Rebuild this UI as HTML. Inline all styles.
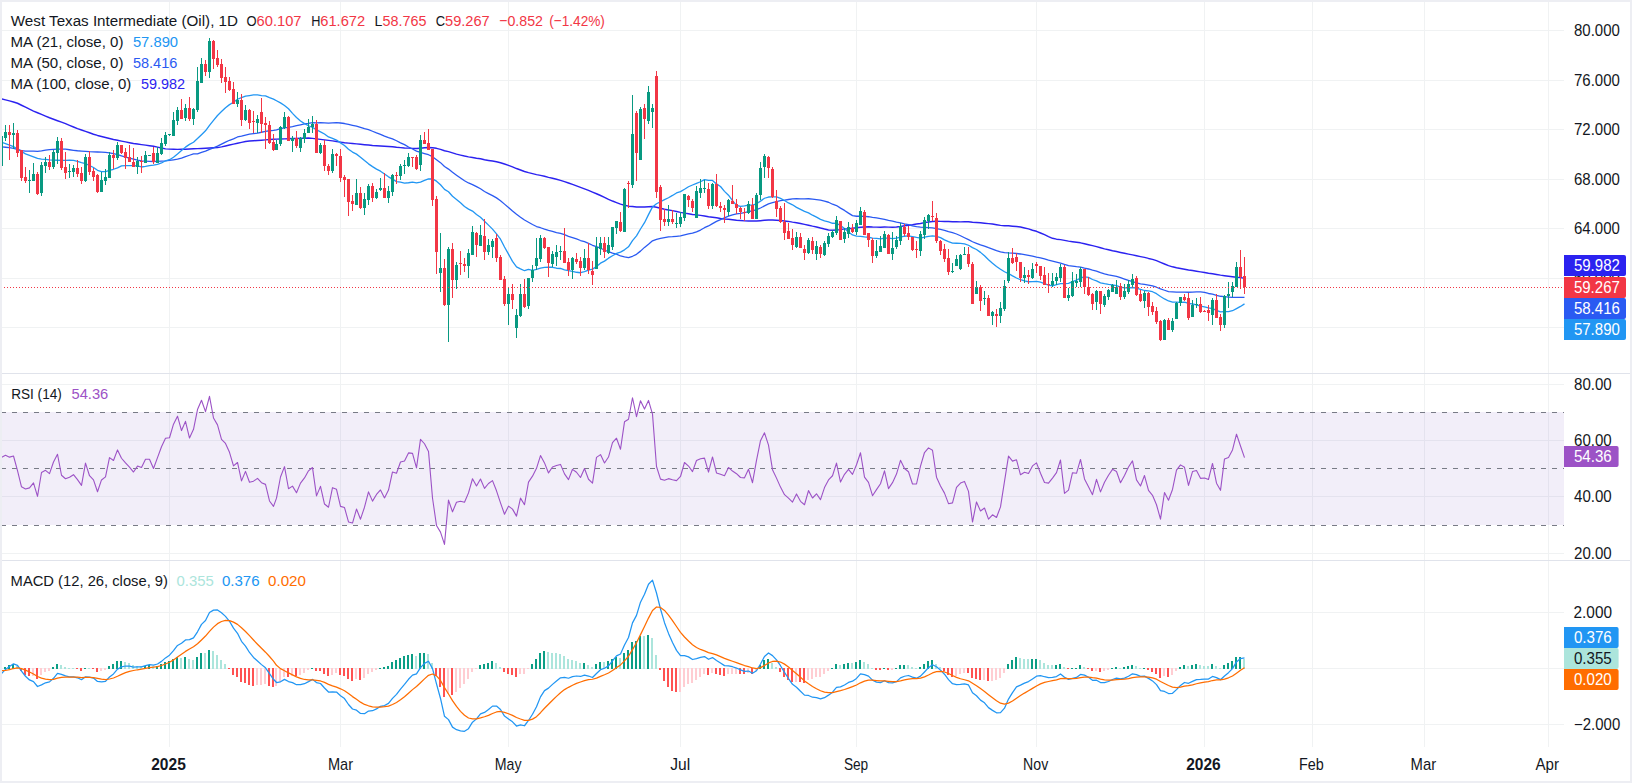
<!DOCTYPE html>
<html><head><meta charset="utf-8"><style>
html,body{margin:0;padding:0;}
body{width:1632px;height:783px;overflow:hidden;position:relative;background:#fff;}
</style></head><body>
<svg width="1632" height="783" viewBox="0 0 1632 783" style="position:absolute;left:0;top:0">
<rect x="0" y="0" width="1632" height="783" fill="#edeef3"/>
<rect x="2" y="2" width="1628" height="779" fill="#ffffff"/>
<g shape-rendering="crispEdges">
<rect x="169" y="2" width="1" height="745" fill="#f0f2f3"/>
<rect x="340" y="2" width="1" height="745" fill="#f0f2f3"/>
<rect x="508" y="2" width="1" height="745" fill="#f0f2f3"/>
<rect x="680" y="2" width="1" height="745" fill="#f0f2f3"/>
<rect x="856" y="2" width="1" height="745" fill="#f0f2f3"/>
<rect x="1036" y="2" width="1" height="745" fill="#f0f2f3"/>
<rect x="1204" y="2" width="1" height="745" fill="#f0f2f3"/>
<rect x="1312" y="2" width="1" height="745" fill="#f0f2f3"/>
<rect x="1424" y="2" width="1" height="745" fill="#f0f2f3"/>
<rect x="1548" y="2" width="1" height="745" fill="#f0f2f3"/>
<rect x="2" y="30" width="1562" height="1" fill="#f0f2f3"/>
<rect x="2" y="80" width="1562" height="1" fill="#f0f2f3"/>
<rect x="2" y="129" width="1562" height="1" fill="#f0f2f3"/>
<rect x="2" y="179" width="1562" height="1" fill="#f0f2f3"/>
<rect x="2" y="228" width="1562" height="1" fill="#f0f2f3"/>
<rect x="2" y="278" width="1562" height="1" fill="#f0f2f3"/>
<rect x="2" y="327" width="1562" height="1" fill="#f0f2f3"/>
<rect x="2" y="384" width="1562" height="1" fill="#f0f2f3"/>
<rect x="2" y="440" width="1562" height="1" fill="#f0f2f3"/>
<rect x="2" y="496" width="1562" height="1" fill="#f0f2f3"/>
<rect x="2" y="553" width="1562" height="1" fill="#f0f2f3"/>
<rect x="2" y="612" width="1562" height="1" fill="#f0f2f3"/>
<rect x="2" y="668" width="1562" height="1" fill="#f0f2f3"/>
<rect x="2" y="724" width="1562" height="1" fill="#f0f2f3"/>
</g>
<rect x="2" y="412" width="1562" height="113" fill="#7e57c2" fill-opacity="0.1"/>
<line x1="2" y1="412.5" x2="1564" y2="412.5" stroke="#787b86" stroke-width="1" stroke-dasharray="5 6" stroke-dashoffset="1" shape-rendering="crispEdges"/>
<line x1="2" y1="468.5" x2="1564" y2="468.5" stroke="#787b86" stroke-width="1" stroke-dasharray="5 6" stroke-dashoffset="1" shape-rendering="crispEdges"/>
<line x1="2" y1="525.5" x2="1564" y2="525.5" stroke="#787b86" stroke-width="1" stroke-dasharray="5 6" stroke-dashoffset="1" shape-rendering="crispEdges"/>
<defs><clipPath id="cp"><rect x="2" y="2" width="1562" height="371"/></clipPath><clipPath id="cr"><rect x="2" y="374" width="1562" height="186"/></clipPath><clipPath id="cm"><rect x="2" y="561" width="1562" height="186"/></clipPath></defs>
<g clip-path="url(#cp)">
<polyline points="1.5,98.75 5.5,99.83 9.5,100.90 13.5,101.97 17.5,103.25 21.5,105.23 25.5,107.22 29.5,109.21 33.5,111.07 37.5,112.73 41.5,114.40 45.5,116.07 49.5,117.73 53.5,119.26 57.5,120.70 61.5,122.14 65.5,123.67 69.5,125.34 73.5,127.01 77.5,128.61 81.5,130.01 85.5,131.41 89.5,132.80 93.5,134.20 97.5,135.43 101.5,136.43 105.5,137.44 109.5,138.44 113.5,139.45 117.5,140.31 121.5,141.11 125.5,141.90 129.5,142.69 133.5,143.48 137.5,144.06 141.5,144.60 145.5,145.14 149.5,145.69 153.5,146.24 157.5,147.13 161.5,148.01 165.5,148.89 169.5,149.11 173.5,149.23 177.5,149.36 181.5,149.30 185.5,149.16 189.5,149.02 193.5,148.83 197.5,148.63 201.5,148.43 205.5,148.23 209.5,148.03 213.5,147.83 217.5,147.63 221.5,146.84 225.5,145.94 229.5,145.04 233.5,144.15 237.5,143.25 241.5,142.35 245.5,141.46 249.5,141.05 253.5,140.75 257.5,140.46 261.5,140.16 265.5,139.86 269.5,139.56 273.5,139.26 276.5,139.12 280.5,138.99 284.5,138.85 288.5,138.71 292.5,138.58 296.5,138.44 300.5,138.30 304.5,138.17 308.5,138.03 312.5,138.38 316.5,138.87 320.5,139.37 324.5,139.86 328.5,140.35 332.5,140.90 336.5,141.50 340.5,142.10 344.5,142.70 348.5,143.10 352.5,143.50 356.5,143.90 360.5,144.29 364.5,144.69 368.5,145.09 372.5,145.49 376.5,145.76 380.5,146.02 384.5,146.29 388.5,146.55 392.5,146.82 396.5,147.29 400.5,147.60 404.5,147.92 408.5,148.15 412.5,148.40 416.5,148.56 420.5,148.18 424.5,147.81 428.5,147.51 432.5,147.76 436.5,148.34 440.5,149.37 444.5,150.80 448.5,151.63 452.5,152.91 456.5,154.15 460.5,155.11 464.5,156.04 468.5,156.86 472.5,157.50 476.5,158.22 480.5,158.76 484.5,159.71 488.5,160.44 492.5,161.09 496.5,161.75 500.5,162.75 504.5,164.02 508.5,165.42 512.5,166.85 516.5,168.55 520.5,169.96 524.5,171.46 528.5,172.62 532.5,173.65 536.5,174.62 540.5,175.37 544.5,176.31 548.5,177.39 552.5,178.31 556.5,179.30 560.5,180.38 564.5,181.66 568.5,183.02 572.5,184.40 576.5,185.92 580.5,187.40 584.5,188.91 588.5,190.42 592.5,192.08 596.5,193.73 600.5,195.53 604.5,197.33 608.5,199.36 612.5,201.05 616.5,202.61 620.5,204.14 624.5,205.21 628.5,206.16 632.5,206.46 636.5,206.99 640.5,206.89 644.5,206.97 648.5,206.66 652.5,206.53 656.5,207.25 660.5,208.21 664.5,209.19 668.5,209.95 672.5,210.66 676.5,211.45 680.5,212.35 684.5,213.12 688.5,213.72 692.5,214.42 696.5,214.87 700.5,215.38 704.5,215.92 708.5,216.71 712.5,217.30 716.5,217.84 720.5,218.48 724.5,218.92 728.5,219.21 732.5,219.71 736.5,220.23 740.5,220.57 744.5,220.90 748.5,220.92 752.5,221.07 756.5,221.09 760.5,220.69 764.5,220.26 768.5,220.08 772.5,220.08 776.5,220.24 780.5,220.58 784.5,220.93 788.5,221.41 792.5,222.11 796.5,222.71 800.5,223.53 804.5,224.41 808.5,225.23 812.5,226.15 816.5,226.93 820.5,228.06 824.5,229.05 828.5,229.92 832.5,230.24 836.5,229.92 840.5,229.64 844.5,228.90 848.5,228.69 852.5,228.21 856.5,227.79 860.5,227.27 864.5,226.96 868.5,226.83 872.5,227.07 876.5,227.13 880.5,227.24 884.5,227.06 888.5,227.15 892.5,227.22 896.5,227.04 900.5,226.50 904.5,225.80 908.5,225.23 912.5,224.72 916.5,224.07 920.5,223.47 924.5,222.60 928.5,221.97 932.5,221.44 936.5,221.27 940.5,221.39 944.5,221.50 948.5,221.59 952.5,221.76 956.5,221.82 960.5,221.87 964.5,221.78 968.5,221.72 972.5,222.18 976.5,222.43 980.5,222.76 984.5,223.16 988.5,223.62 992.5,224.00 996.5,224.69 1000.5,225.35 1004.5,225.69 1008.5,225.82 1012.5,226.19 1016.5,226.59 1020.5,227.06 1024.5,227.92 1028.5,228.84 1032.5,230.20 1036.5,231.32 1040.5,232.99 1044.5,234.65 1048.5,236.58 1052.5,238.31 1056.5,239.16 1060.5,239.64 1064.5,240.39 1068.5,241.15 1072.5,241.74 1076.5,242.32 1080.5,242.84 1084.5,243.76 1088.5,244.71 1092.5,245.66 1096.5,246.66 1100.5,247.82 1104.5,248.91 1108.5,249.75 1112.5,250.76 1116.5,251.56 1120.5,252.45 1124.5,253.25 1128.5,254.09 1132.5,254.84 1136.5,255.71 1140.5,256.59 1144.5,257.39 1148.5,258.42 1152.5,259.35 1156.5,260.62 1160.5,262.34 1164.5,263.98 1168.5,265.59 1172.5,266.83 1176.5,267.77 1180.5,268.52 1184.5,269.18 1188.5,269.98 1192.5,270.58 1196.5,271.25 1200.5,271.89 1204.5,272.47 1208.5,273.20 1212.5,273.70 1216.5,274.42 1220.5,275.13 1224.5,275.66 1228.5,276.24 1232.5,276.78 1236.5,277.25 1240.5,277.62 1244.5,278.18" fill="none" stroke="#2b22f0" stroke-width="1.45" stroke-linejoin="round"/>
<polyline points="1.5,146.76 5.5,147.23 9.5,147.71 13.5,148.30 17.5,149.44 21.5,150.57 25.5,151.05 29.5,151.13 33.5,151.21 37.5,151.28 41.5,150.83 45.5,150.23 49.5,149.64 53.5,149.33 57.5,149.20 61.5,149.07 65.5,149.21 69.5,149.75 73.5,150.29 77.5,150.77 81.5,151.08 85.5,151.40 89.5,151.70 93.5,151.86 97.5,152.02 101.5,152.17 105.5,152.46 109.5,152.78 113.5,153.58 117.5,154.65 121.5,155.84 125.5,157.04 129.5,158.15 133.5,159.15 137.5,160.15 141.5,160.95 145.5,161.13 149.5,161.32 153.5,161.49 157.5,161.30 161.5,161.11 165.5,160.92 169.5,160.38 173.5,159.79 177.5,159.19 181.5,158.05 185.5,156.64 189.5,155.24 193.5,153.91 197.5,153.82 201.5,152.38 205.5,151.17 209.5,149.30 213.5,147.82 217.5,146.06 221.5,144.07 225.5,142.08 229.5,140.28 233.5,138.88 237.5,136.99 241.5,136.09 245.5,135.05 249.5,134.17 253.5,133.57 257.5,133.13 261.5,132.25 265.5,131.31 269.5,130.76 273.5,130.40 276.5,129.80 280.5,128.73 284.5,127.93 288.5,127.32 292.5,126.55 296.5,125.63 300.5,124.78 304.5,123.91 308.5,123.36 312.5,122.69 316.5,122.85 320.5,122.69 324.5,122.86 328.5,123.04 332.5,122.79 336.5,122.69 340.5,123.01 344.5,123.51 348.5,124.44 352.5,125.28 356.5,126.08 360.5,127.38 364.5,128.67 368.5,129.70 372.5,131.26 376.5,132.90 380.5,134.29 384.5,136.09 388.5,137.54 392.5,138.86 396.5,140.77 400.5,142.81 404.5,144.68 408.5,147.00 412.5,148.97 416.5,151.06 420.5,152.30 424.5,153.54 428.5,154.73 432.5,156.65 436.5,159.69 440.5,162.65 444.5,166.55 448.5,169.08 452.5,172.24 456.5,175.16 460.5,177.96 464.5,180.77 468.5,182.96 472.5,184.60 476.5,186.63 480.5,188.79 484.5,191.48 488.5,193.57 492.5,195.63 496.5,197.87 500.5,200.71 504.5,204.13 508.5,207.47 512.5,211.00 516.5,214.25 520.5,217.24 524.5,220.05 528.5,222.20 532.5,224.50 536.5,226.54 540.5,227.74 544.5,229.11 548.5,230.33 552.5,231.34 556.5,232.53 560.5,233.38 564.5,234.65 568.5,236.34 572.5,237.54 576.5,238.93 580.5,240.51 584.5,241.72 588.5,243.30 592.5,245.29 596.5,246.70 600.5,248.24 604.5,249.98 608.5,251.73 612.5,253.12 616.5,254.16 620.5,255.98 624.5,256.89 628.5,257.59 632.5,256.27 636.5,254.30 640.5,251.12 644.5,247.39 648.5,244.24 652.5,240.81 656.5,239.35 660.5,238.47 664.5,237.60 668.5,236.93 672.5,236.72 676.5,236.28 680.5,235.91 684.5,234.76 688.5,233.86 692.5,233.20 696.5,231.87 700.5,230.04 704.5,227.71 708.5,225.94 712.5,223.61 716.5,221.44 720.5,219.71 724.5,217.78 728.5,216.22 732.5,214.92 736.5,213.92 740.5,213.40 744.5,212.68 748.5,211.51 752.5,210.79 756.5,209.64 760.5,207.99 764.5,205.86 768.5,203.83 772.5,202.61 776.5,201.55 780.5,200.64 784.5,200.14 788.5,199.51 792.5,198.92 796.5,198.72 800.5,198.82 804.5,198.84 808.5,198.74 812.5,199.19 816.5,199.69 820.5,200.14 824.5,201.22 828.5,202.25 832.5,204.21 836.5,205.54 840.5,208.15 844.5,210.42 848.5,213.13 852.5,215.61 856.5,216.24 860.5,216.06 864.5,216.31 868.5,216.73 872.5,217.43 876.5,217.98 880.5,218.56 884.5,219.36 888.5,220.43 892.5,221.23 896.5,222.21 900.5,222.96 904.5,223.89 908.5,224.52 912.5,225.84 916.5,226.71 920.5,227.22 924.5,227.41 928.5,227.71 932.5,227.95 936.5,228.62 940.5,229.39 944.5,230.32 948.5,231.67 952.5,232.72 956.5,234.00 960.5,235.74 964.5,237.71 968.5,239.61 972.5,241.74 976.5,243.31 980.5,244.89 984.5,246.19 988.5,247.73 992.5,249.07 996.5,250.66 1000.5,251.88 1004.5,252.55 1008.5,252.91 1012.5,253.18 1016.5,253.50 1020.5,253.98 1024.5,254.63 1028.5,255.44 1032.5,256.18 1036.5,257.11 1040.5,257.83 1044.5,258.88 1048.5,260.03 1052.5,261.01 1056.5,262.09 1060.5,263.21 1064.5,264.47 1068.5,265.57 1072.5,266.05 1076.5,266.65 1080.5,267.11 1084.5,268.16 1088.5,268.99 1092.5,270.10 1096.5,271.11 1100.5,272.68 1104.5,273.92 1108.5,274.98 1112.5,275.68 1116.5,276.41 1120.5,277.67 1124.5,279.09 1128.5,280.48 1132.5,281.72 1136.5,282.79 1140.5,283.79 1144.5,284.47 1148.5,285.17 1152.5,285.98 1156.5,287.24 1160.5,288.93 1164.5,290.25 1168.5,291.57 1172.5,291.91 1176.5,292.22 1180.5,292.15 1184.5,292.18 1188.5,292.23 1192.5,292.08 1196.5,291.83 1200.5,291.90 1204.5,292.40 1208.5,293.49 1212.5,294.22 1216.5,295.33 1220.5,296.27 1224.5,296.69 1228.5,297.04 1232.5,297.38 1236.5,297.39 1240.5,297.42 1244.5,297.47" fill="none" stroke="#2a5af2" stroke-width="1.3" stroke-linejoin="round"/>
<polyline points="1.5,142.21 5.5,143.66 9.5,145.05 13.5,146.62 17.5,149.05 21.5,151.47 25.5,153.90 29.5,155.40 33.5,156.90 37.5,158.40 41.5,159.03 45.5,159.43 49.5,159.84 53.5,160.09 57.5,160.25 61.5,160.41 65.5,160.39 69.5,160.13 73.5,160.44 77.5,161.31 81.5,162.65 85.5,163.65 89.5,165.52 93.5,167.52 97.5,170.33 101.5,171.62 105.5,171.57 109.5,170.31 113.5,169.26 117.5,167.86 121.5,165.90 125.5,165.55 129.5,165.54 133.5,165.54 137.5,165.98 141.5,166.99 145.5,166.38 149.5,165.54 153.5,165.12 157.5,164.40 161.5,162.95 165.5,160.76 169.5,159.68 173.5,157.22 177.5,154.04 181.5,150.56 185.5,147.13 189.5,144.38 193.5,142.20 197.5,138.55 201.5,134.70 205.5,130.84 209.5,125.29 213.5,120.38 217.5,115.52 221.5,111.56 225.5,107.72 229.5,104.63 233.5,102.20 237.5,99.25 241.5,97.68 245.5,96.11 249.5,95.54 253.5,94.94 257.5,94.91 261.5,95.56 265.5,95.87 269.5,97.56 273.5,99.06 276.5,100.73 280.5,102.91 284.5,105.45 288.5,108.72 292.5,113.34 296.5,117.49 300.5,120.96 304.5,123.59 308.5,125.75 312.5,127.38 316.5,129.71 320.5,131.84 324.5,134.04 328.5,136.93 332.5,138.44 336.5,140.08 340.5,142.89 344.5,145.56 348.5,149.20 352.5,152.07 356.5,154.11 360.5,157.18 364.5,160.61 368.5,163.87 372.5,166.60 376.5,169.17 380.5,171.20 384.5,174.05 388.5,176.82 392.5,179.11 396.5,181.59 400.5,182.23 404.5,183.19 408.5,182.76 412.5,182.13 416.5,182.82 420.5,182.06 424.5,180.42 428.5,178.98 432.5,178.89 436.5,181.18 440.5,184.76 444.5,189.37 448.5,191.76 452.5,196.24 456.5,199.44 460.5,202.84 464.5,206.53 468.5,209.16 472.5,211.11 476.5,214.45 480.5,217.25 484.5,221.33 488.5,225.14 492.5,229.13 496.5,233.89 500.5,239.18 504.5,246.98 508.5,254.16 512.5,261.35 516.5,266.84 520.5,268.87 524.5,270.72 528.5,269.42 532.5,270.39 536.5,269.36 540.5,268.07 544.5,267.34 548.5,267.20 552.5,267.26 556.5,268.23 560.5,268.49 564.5,269.79 568.5,270.66 572.5,271.29 576.5,272.26 580.5,272.74 584.5,271.70 588.5,270.10 592.5,269.16 596.5,266.59 600.5,263.17 604.5,261.14 608.5,258.18 612.5,255.75 616.5,253.45 620.5,252.15 624.5,249.82 628.5,246.78 632.5,240.65 636.5,235.84 640.5,229.02 644.5,222.72 648.5,214.61 652.5,206.90 656.5,203.74 660.5,201.75 664.5,199.59 668.5,197.75 672.5,195.43 676.5,192.98 680.5,191.57 684.5,189.24 688.5,186.77 692.5,185.02 696.5,183.31 700.5,181.75 704.5,179.68 708.5,180.47 712.5,180.45 716.5,183.90 720.5,186.52 724.5,191.35 728.5,195.22 732.5,200.58 736.5,205.31 740.5,206.29 744.5,205.94 748.5,205.07 752.5,205.03 756.5,203.76 760.5,201.15 764.5,198.25 768.5,197.01 772.5,196.89 776.5,196.91 780.5,198.37 784.5,200.51 788.5,202.96 792.5,204.82 796.5,207.34 800.5,209.31 804.5,211.43 808.5,212.83 812.5,215.19 816.5,217.17 820.5,219.35 824.5,220.82 828.5,221.94 832.5,223.27 836.5,223.34 840.5,225.47 844.5,228.51 848.5,231.90 852.5,234.94 856.5,236.18 860.5,236.29 864.5,236.91 868.5,237.24 872.5,238.08 876.5,238.37 880.5,238.80 884.5,238.15 888.5,238.19 892.5,238.58 896.5,238.12 900.5,237.17 904.5,236.24 908.5,235.97 912.5,236.62 916.5,237.46 920.5,238.13 924.5,237.20 928.5,236.38 932.5,235.88 936.5,236.31 940.5,237.61 944.5,239.88 948.5,241.64 952.5,243.10 956.5,243.23 960.5,243.43 964.5,243.83 968.5,245.24 972.5,247.63 976.5,249.48 980.5,252.37 984.5,255.81 988.5,259.70 992.5,263.27 996.5,266.45 1000.5,269.24 1004.5,271.73 1008.5,273.54 1012.5,275.85 1016.5,277.99 1020.5,279.74 1024.5,280.91 1028.5,281.76 1032.5,281.64 1036.5,281.41 1040.5,282.20 1044.5,283.59 1048.5,285.06 1052.5,285.89 1056.5,284.63 1060.5,283.67 1064.5,283.53 1068.5,283.38 1072.5,281.71 1076.5,280.23 1080.5,277.95 1084.5,276.91 1088.5,277.32 1092.5,279.50 1096.5,280.80 1100.5,282.84 1104.5,283.71 1108.5,284.42 1112.5,284.81 1116.5,285.64 1120.5,287.09 1124.5,287.83 1128.5,287.81 1132.5,287.51 1136.5,288.17 1140.5,289.29 1144.5,290.50 1148.5,290.93 1152.5,291.71 1156.5,293.68 1160.5,296.49 1164.5,298.94 1168.5,300.98 1172.5,302.20 1176.5,302.16 1180.5,302.47 1184.5,302.24 1188.5,303.28 1192.5,304.00 1196.5,304.91 1200.5,306.11 1204.5,306.80 1208.5,307.83 1212.5,308.57 1216.5,310.41 1220.5,311.83 1224.5,311.60 1228.5,311.68 1232.5,310.70 1236.5,308.57 1240.5,306.43 1244.5,303.92" fill="none" stroke="#2196f3" stroke-width="1.3" stroke-linejoin="round"/>
<g shape-rendering="crispEdges">
<rect x="1.0" y="135" width="1" height="31" fill="#089981"/>
<rect x="0.0" y="136" width="3" height="30" fill="#089981"/>
<rect x="5.0" y="125" width="1" height="16" fill="#089981"/>
<rect x="4.0" y="132" width="3" height="6" fill="#089981"/>
<rect x="9.0" y="125" width="1" height="35" fill="#F23645"/>
<rect x="8.0" y="132" width="3" height="3" fill="#F23645"/>
<rect x="13.0" y="123" width="1" height="26" fill="#089981"/>
<rect x="12.0" y="133" width="3" height="2" fill="#089981"/>
<rect x="17.0" y="130" width="1" height="27" fill="#F23645"/>
<rect x="16.0" y="133" width="3" height="20" fill="#F23645"/>
<rect x="21.0" y="150" width="1" height="31" fill="#F23645"/>
<rect x="20.0" y="150" width="3" height="28" fill="#F23645"/>
<rect x="25.0" y="167" width="1" height="16" fill="#F23645"/>
<rect x="24.0" y="177" width="3" height="4" fill="#F23645"/>
<rect x="29.0" y="170" width="1" height="23" fill="#089981"/>
<rect x="28.0" y="180" width="3" height="1" fill="#089981"/>
<rect x="33.0" y="163" width="1" height="18" fill="#089981"/>
<rect x="32.0" y="174" width="3" height="7" fill="#089981"/>
<rect x="37.0" y="172" width="1" height="23" fill="#F23645"/>
<rect x="36.0" y="174" width="3" height="20" fill="#F23645"/>
<rect x="41.0" y="162" width="1" height="34" fill="#089981"/>
<rect x="40.0" y="165" width="3" height="28" fill="#089981"/>
<rect x="45.0" y="157" width="1" height="16" fill="#089981"/>
<rect x="44.0" y="162" width="3" height="4" fill="#089981"/>
<rect x="49.0" y="155" width="1" height="15" fill="#F23645"/>
<rect x="48.0" y="162" width="3" height="5" fill="#F23645"/>
<rect x="53.0" y="150" width="1" height="19" fill="#089981"/>
<rect x="52.0" y="152" width="3" height="15" fill="#089981"/>
<rect x="57.0" y="137" width="1" height="27" fill="#089981"/>
<rect x="56.0" y="141" width="3" height="12" fill="#089981"/>
<rect x="61.0" y="138" width="1" height="32" fill="#F23645"/>
<rect x="60.0" y="141" width="3" height="27" fill="#F23645"/>
<rect x="65.0" y="152" width="1" height="27" fill="#F23645"/>
<rect x="64.0" y="167" width="3" height="6" fill="#F23645"/>
<rect x="69.0" y="164" width="1" height="14" fill="#089981"/>
<rect x="68.0" y="171" width="3" height="1" fill="#089981"/>
<rect x="73.0" y="165" width="1" height="12" fill="#089981"/>
<rect x="72.0" y="168" width="3" height="4" fill="#089981"/>
<rect x="77.0" y="160" width="1" height="17" fill="#F23645"/>
<rect x="76.0" y="168" width="3" height="6" fill="#F23645"/>
<rect x="81.0" y="167" width="1" height="17" fill="#F23645"/>
<rect x="80.0" y="173" width="3" height="8" fill="#F23645"/>
<rect x="85.0" y="154" width="1" height="28" fill="#089981"/>
<rect x="84.0" y="157" width="3" height="24" fill="#089981"/>
<rect x="89.0" y="151" width="1" height="24" fill="#F23645"/>
<rect x="88.0" y="157" width="3" height="15" fill="#F23645"/>
<rect x="93.0" y="168" width="1" height="13" fill="#F23645"/>
<rect x="92.0" y="171" width="3" height="6" fill="#F23645"/>
<rect x="97.0" y="174" width="1" height="19" fill="#F23645"/>
<rect x="96.0" y="175" width="3" height="17" fill="#F23645"/>
<rect x="101.0" y="172" width="1" height="20" fill="#089981"/>
<rect x="100.0" y="180" width="3" height="12" fill="#089981"/>
<rect x="105.0" y="169" width="1" height="16" fill="#089981"/>
<rect x="104.0" y="177" width="3" height="4" fill="#089981"/>
<rect x="109.0" y="152" width="1" height="26" fill="#089981"/>
<rect x="108.0" y="155" width="3" height="23" fill="#089981"/>
<rect x="113.0" y="150" width="1" height="19" fill="#F23645"/>
<rect x="112.0" y="155" width="3" height="3" fill="#F23645"/>
<rect x="117.0" y="142" width="1" height="18" fill="#089981"/>
<rect x="116.0" y="145" width="3" height="13" fill="#089981"/>
<rect x="121.0" y="145" width="1" height="9" fill="#F23645"/>
<rect x="120.0" y="145" width="3" height="8" fill="#F23645"/>
<rect x="125.0" y="148" width="1" height="21" fill="#F23645"/>
<rect x="124.0" y="152" width="3" height="6" fill="#F23645"/>
<rect x="129.0" y="145" width="1" height="17" fill="#F23645"/>
<rect x="128.0" y="157" width="3" height="5" fill="#F23645"/>
<rect x="133.0" y="148" width="1" height="19" fill="#F23645"/>
<rect x="132.0" y="162" width="3" height="5" fill="#F23645"/>
<rect x="137.0" y="157" width="1" height="17" fill="#089981"/>
<rect x="136.0" y="161" width="3" height="6" fill="#089981"/>
<rect x="141.0" y="156" width="1" height="17" fill="#F23645"/>
<rect x="140.0" y="161" width="3" height="1" fill="#F23645"/>
<rect x="145.0" y="151" width="1" height="12" fill="#089981"/>
<rect x="144.0" y="155" width="3" height="8" fill="#089981"/>
<rect x="149.0" y="155" width="1" height="1" fill="#089981"/>
<rect x="148.0" y="155" width="3" height="1" fill="#089981"/>
<rect x="153.0" y="147" width="1" height="17" fill="#F23645"/>
<rect x="152.0" y="153" width="3" height="9" fill="#F23645"/>
<rect x="157.0" y="147" width="1" height="16" fill="#089981"/>
<rect x="156.0" y="153" width="3" height="10" fill="#089981"/>
<rect x="161.0" y="138" width="1" height="17" fill="#089981"/>
<rect x="160.0" y="143" width="3" height="11" fill="#089981"/>
<rect x="165.0" y="132" width="1" height="14" fill="#089981"/>
<rect x="164.0" y="135" width="3" height="9" fill="#089981"/>
<rect x="169.0" y="134" width="1" height="2" fill="#089981"/>
<rect x="168.0" y="134" width="3" height="1" fill="#089981"/>
<rect x="173.0" y="112" width="1" height="24" fill="#089981"/>
<rect x="172.0" y="120" width="3" height="16" fill="#089981"/>
<rect x="177.0" y="107" width="1" height="18" fill="#089981"/>
<rect x="176.0" y="110" width="3" height="11" fill="#089981"/>
<rect x="181.0" y="99" width="1" height="20" fill="#F23645"/>
<rect x="180.0" y="110" width="3" height="9" fill="#F23645"/>
<rect x="185.0" y="104" width="1" height="17" fill="#089981"/>
<rect x="184.0" y="108" width="3" height="10" fill="#089981"/>
<rect x="189.0" y="97" width="1" height="24" fill="#F23645"/>
<rect x="188.0" y="108" width="3" height="11" fill="#F23645"/>
<rect x="193.0" y="108" width="1" height="17" fill="#089981"/>
<rect x="192.0" y="109" width="3" height="10" fill="#089981"/>
<rect x="197.0" y="67" width="1" height="45" fill="#089981"/>
<rect x="196.0" y="81" width="3" height="29" fill="#089981"/>
<rect x="201.0" y="58" width="1" height="25" fill="#089981"/>
<rect x="200.0" y="64" width="3" height="19" fill="#089981"/>
<rect x="205.0" y="60" width="1" height="16" fill="#F23645"/>
<rect x="204.0" y="64" width="3" height="8" fill="#F23645"/>
<rect x="209.0" y="38" width="1" height="40" fill="#089981"/>
<rect x="208.0" y="41" width="3" height="31" fill="#089981"/>
<rect x="213.0" y="40" width="1" height="29" fill="#F23645"/>
<rect x="212.0" y="41" width="3" height="18" fill="#F23645"/>
<rect x="217.0" y="50" width="1" height="17" fill="#F23645"/>
<rect x="216.0" y="58" width="3" height="7" fill="#F23645"/>
<rect x="221.0" y="59" width="1" height="24" fill="#F23645"/>
<rect x="220.0" y="64" width="3" height="14" fill="#F23645"/>
<rect x="225.0" y="67" width="1" height="26" fill="#F23645"/>
<rect x="224.0" y="77" width="3" height="5" fill="#F23645"/>
<rect x="229.0" y="77" width="1" height="14" fill="#F23645"/>
<rect x="228.0" y="81" width="3" height="9" fill="#F23645"/>
<rect x="233.0" y="82" width="1" height="22" fill="#F23645"/>
<rect x="232.0" y="89" width="3" height="15" fill="#F23645"/>
<rect x="237.0" y="92" width="1" height="15" fill="#089981"/>
<rect x="236.0" y="100" width="3" height="4" fill="#089981"/>
<rect x="241.0" y="94" width="1" height="32" fill="#F23645"/>
<rect x="240.0" y="100" width="3" height="20" fill="#F23645"/>
<rect x="245.0" y="105" width="1" height="16" fill="#089981"/>
<rect x="244.0" y="110" width="3" height="10" fill="#089981"/>
<rect x="249.0" y="109" width="1" height="20" fill="#F23645"/>
<rect x="248.0" y="110" width="3" height="13" fill="#F23645"/>
<rect x="253.0" y="111" width="1" height="22" fill="#F23645"/>
<rect x="252.0" y="121" width="3" height="1" fill="#F23645"/>
<rect x="257.0" y="115" width="1" height="18" fill="#089981"/>
<rect x="256.0" y="119" width="3" height="4" fill="#089981"/>
<rect x="261.0" y="98" width="1" height="35" fill="#F23645"/>
<rect x="260.0" y="112" width="3" height="12" fill="#F23645"/>
<rect x="265.0" y="117" width="1" height="32" fill="#F23645"/>
<rect x="264.0" y="123" width="3" height="2" fill="#F23645"/>
<rect x="269.0" y="121" width="1" height="23" fill="#F23645"/>
<rect x="268.0" y="125" width="3" height="18" fill="#F23645"/>
<rect x="273.0" y="134" width="1" height="17" fill="#F23645"/>
<rect x="272.0" y="142" width="3" height="8" fill="#F23645"/>
<rect x="276.0" y="140" width="1" height="10" fill="#089981"/>
<rect x="275.0" y="144" width="3" height="6" fill="#089981"/>
<rect x="280.0" y="126" width="1" height="20" fill="#089981"/>
<rect x="279.0" y="127" width="3" height="17" fill="#089981"/>
<rect x="284.0" y="112" width="1" height="17" fill="#089981"/>
<rect x="283.0" y="117" width="3" height="11" fill="#089981"/>
<rect x="288.0" y="116" width="1" height="25" fill="#F23645"/>
<rect x="287.0" y="117" width="3" height="24" fill="#F23645"/>
<rect x="292.0" y="136" width="1" height="16" fill="#089981"/>
<rect x="291.0" y="138" width="3" height="3" fill="#089981"/>
<rect x="296.0" y="131" width="1" height="17" fill="#F23645"/>
<rect x="295.0" y="138" width="3" height="8" fill="#F23645"/>
<rect x="300.0" y="137" width="1" height="15" fill="#089981"/>
<rect x="299.0" y="138" width="3" height="10" fill="#089981"/>
<rect x="304.0" y="129" width="1" height="14" fill="#089981"/>
<rect x="303.0" y="133" width="3" height="6" fill="#089981"/>
<rect x="308.0" y="119" width="1" height="14" fill="#089981"/>
<rect x="307.0" y="127" width="3" height="6" fill="#089981"/>
<rect x="312.0" y="116" width="1" height="17" fill="#089981"/>
<rect x="311.0" y="124" width="3" height="3" fill="#089981"/>
<rect x="316.0" y="120" width="1" height="33" fill="#F23645"/>
<rect x="315.0" y="124" width="3" height="29" fill="#F23645"/>
<rect x="320.0" y="143" width="1" height="11" fill="#089981"/>
<rect x="319.0" y="145" width="3" height="8" fill="#089981"/>
<rect x="324.0" y="140" width="1" height="31" fill="#F23645"/>
<rect x="323.0" y="145" width="3" height="21" fill="#F23645"/>
<rect x="328.0" y="164" width="1" height="11" fill="#F23645"/>
<rect x="327.0" y="166" width="3" height="5" fill="#F23645"/>
<rect x="332.0" y="149" width="1" height="24" fill="#089981"/>
<rect x="331.0" y="154" width="3" height="17" fill="#089981"/>
<rect x="336.0" y="153" width="1" height="13" fill="#F23645"/>
<rect x="335.0" y="154" width="3" height="2" fill="#F23645"/>
<rect x="340.0" y="149" width="1" height="33" fill="#F23645"/>
<rect x="339.0" y="156" width="3" height="22" fill="#F23645"/>
<rect x="344.0" y="175" width="1" height="22" fill="#F23645"/>
<rect x="343.0" y="177" width="3" height="3" fill="#F23645"/>
<rect x="348.0" y="179" width="1" height="37" fill="#F23645"/>
<rect x="347.0" y="179" width="3" height="23" fill="#F23645"/>
<rect x="352.0" y="195" width="1" height="16" fill="#F23645"/>
<rect x="351.0" y="201" width="3" height="3" fill="#F23645"/>
<rect x="356.0" y="179" width="1" height="26" fill="#089981"/>
<rect x="355.0" y="193" width="3" height="12" fill="#089981"/>
<rect x="360.0" y="187" width="1" height="22" fill="#F23645"/>
<rect x="359.0" y="193" width="3" height="15" fill="#F23645"/>
<rect x="364.0" y="193" width="1" height="22" fill="#089981"/>
<rect x="363.0" y="199" width="3" height="9" fill="#089981"/>
<rect x="368.0" y="184" width="1" height="21" fill="#089981"/>
<rect x="367.0" y="186" width="3" height="14" fill="#089981"/>
<rect x="372.0" y="183" width="1" height="19" fill="#F23645"/>
<rect x="371.0" y="186" width="3" height="12" fill="#F23645"/>
<rect x="376.0" y="189" width="1" height="10" fill="#089981"/>
<rect x="375.0" y="192" width="3" height="6" fill="#089981"/>
<rect x="380.0" y="178" width="1" height="13" fill="#089981"/>
<rect x="379.0" y="188" width="3" height="2" fill="#089981"/>
<rect x="384.0" y="173" width="1" height="25" fill="#F23645"/>
<rect x="383.0" y="188" width="3" height="10" fill="#F23645"/>
<rect x="388.0" y="186" width="1" height="17" fill="#089981"/>
<rect x="387.0" y="191" width="3" height="7" fill="#089981"/>
<rect x="392.0" y="174" width="1" height="22" fill="#089981"/>
<rect x="391.0" y="175" width="3" height="17" fill="#089981"/>
<rect x="396.0" y="172" width="1" height="12" fill="#F23645"/>
<rect x="395.0" y="175" width="3" height="1" fill="#F23645"/>
<rect x="400.0" y="164" width="1" height="16" fill="#089981"/>
<rect x="399.0" y="166" width="3" height="10" fill="#089981"/>
<rect x="404.0" y="160" width="1" height="14" fill="#089981"/>
<rect x="403.0" y="165" width="3" height="1" fill="#089981"/>
<rect x="408.0" y="153" width="1" height="14" fill="#089981"/>
<rect x="407.0" y="157" width="3" height="9" fill="#089981"/>
<rect x="412.0" y="157" width="1" height="10" fill="#F23645"/>
<rect x="411.0" y="157" width="3" height="1" fill="#F23645"/>
<rect x="416.0" y="155" width="1" height="15" fill="#F23645"/>
<rect x="415.0" y="157" width="3" height="12" fill="#F23645"/>
<rect x="420.0" y="135" width="1" height="36" fill="#089981"/>
<rect x="419.0" y="140" width="3" height="25" fill="#089981"/>
<rect x="424.0" y="132" width="1" height="12" fill="#F23645"/>
<rect x="423.0" y="140" width="3" height="4" fill="#F23645"/>
<rect x="428.0" y="129" width="1" height="21" fill="#F23645"/>
<rect x="427.0" y="143" width="3" height="7" fill="#F23645"/>
<rect x="432.0" y="149" width="1" height="57" fill="#F23645"/>
<rect x="431.0" y="149" width="3" height="51" fill="#F23645"/>
<rect x="436.0" y="196" width="1" height="78" fill="#F23645"/>
<rect x="435.0" y="199" width="3" height="53" fill="#F23645"/>
<rect x="440.0" y="233" width="1" height="59" fill="#089981"/>
<rect x="439.0" y="268" width="3" height="5" fill="#089981"/>
<rect x="444.0" y="259" width="1" height="47" fill="#F23645"/>
<rect x="443.0" y="268" width="3" height="37" fill="#F23645"/>
<rect x="448.0" y="247" width="1" height="95" fill="#089981"/>
<rect x="447.0" y="249" width="3" height="56" fill="#089981"/>
<rect x="452.0" y="243" width="1" height="55" fill="#F23645"/>
<rect x="451.0" y="249" width="3" height="31" fill="#F23645"/>
<rect x="456.0" y="262" width="1" height="27" fill="#089981"/>
<rect x="455.0" y="265" width="3" height="15" fill="#089981"/>
<rect x="460.0" y="251" width="1" height="24" fill="#F23645"/>
<rect x="459.0" y="263" width="3" height="1" fill="#F23645"/>
<rect x="464.0" y="258" width="1" height="14" fill="#F23645"/>
<rect x="463.0" y="264" width="3" height="2" fill="#F23645"/>
<rect x="468.0" y="249" width="1" height="29" fill="#089981"/>
<rect x="467.0" y="253" width="3" height="13" fill="#089981"/>
<rect x="472.0" y="226" width="1" height="29" fill="#089981"/>
<rect x="471.0" y="232" width="3" height="23" fill="#089981"/>
<rect x="476.0" y="232" width="1" height="25" fill="#F23645"/>
<rect x="475.0" y="233" width="3" height="12" fill="#F23645"/>
<rect x="480.0" y="225" width="1" height="21" fill="#089981"/>
<rect x="479.0" y="235" width="3" height="11" fill="#089981"/>
<rect x="484.0" y="219" width="1" height="41" fill="#F23645"/>
<rect x="483.0" y="236" width="3" height="16" fill="#F23645"/>
<rect x="488.0" y="239" width="1" height="16" fill="#089981"/>
<rect x="487.0" y="245" width="3" height="7" fill="#089981"/>
<rect x="492.0" y="239" width="1" height="19" fill="#089981"/>
<rect x="491.0" y="241" width="3" height="6" fill="#089981"/>
<rect x="496.0" y="234" width="1" height="28" fill="#F23645"/>
<rect x="495.0" y="238" width="3" height="20" fill="#F23645"/>
<rect x="500.0" y="255" width="1" height="25" fill="#F23645"/>
<rect x="499.0" y="257" width="3" height="23" fill="#F23645"/>
<rect x="504.0" y="276" width="1" height="30" fill="#F23645"/>
<rect x="503.0" y="279" width="3" height="25" fill="#F23645"/>
<rect x="508.0" y="288" width="1" height="37" fill="#089981"/>
<rect x="507.0" y="294" width="3" height="10" fill="#089981"/>
<rect x="512.0" y="284" width="1" height="25" fill="#F23645"/>
<rect x="511.0" y="294" width="3" height="6" fill="#F23645"/>
<rect x="516.0" y="309" width="1" height="29" fill="#089981"/>
<rect x="515.0" y="315" width="3" height="13" fill="#089981"/>
<rect x="520.0" y="284" width="1" height="33" fill="#089981"/>
<rect x="519.0" y="294" width="3" height="22" fill="#089981"/>
<rect x="524.0" y="279" width="1" height="29" fill="#F23645"/>
<rect x="523.0" y="294" width="3" height="13" fill="#F23645"/>
<rect x="528.0" y="278" width="1" height="31" fill="#089981"/>
<rect x="527.0" y="278" width="3" height="28" fill="#089981"/>
<rect x="532.0" y="265" width="1" height="17" fill="#089981"/>
<rect x="531.0" y="270" width="3" height="8" fill="#089981"/>
<rect x="536.0" y="238" width="1" height="32" fill="#089981"/>
<rect x="535.0" y="258" width="3" height="8" fill="#089981"/>
<rect x="540.0" y="235" width="1" height="27" fill="#089981"/>
<rect x="539.0" y="238" width="3" height="21" fill="#089981"/>
<rect x="544.0" y="237" width="1" height="12" fill="#F23645"/>
<rect x="543.0" y="238" width="3" height="10" fill="#F23645"/>
<rect x="548.0" y="247" width="1" height="30" fill="#F23645"/>
<rect x="547.0" y="247" width="3" height="16" fill="#F23645"/>
<rect x="552.0" y="251" width="1" height="16" fill="#089981"/>
<rect x="551.0" y="254" width="3" height="10" fill="#089981"/>
<rect x="556.0" y="245" width="1" height="21" fill="#089981"/>
<rect x="555.0" y="252" width="3" height="5" fill="#089981"/>
<rect x="560.0" y="246" width="1" height="14" fill="#089981"/>
<rect x="559.0" y="251" width="3" height="1" fill="#089981"/>
<rect x="564.0" y="228" width="1" height="35" fill="#F23645"/>
<rect x="563.0" y="251" width="3" height="12" fill="#F23645"/>
<rect x="568.0" y="258" width="1" height="18" fill="#F23645"/>
<rect x="567.0" y="262" width="3" height="8" fill="#F23645"/>
<rect x="572.0" y="257" width="1" height="22" fill="#089981"/>
<rect x="571.0" y="258" width="3" height="12" fill="#089981"/>
<rect x="576.0" y="253" width="1" height="11" fill="#F23645"/>
<rect x="575.0" y="259" width="3" height="3" fill="#F23645"/>
<rect x="580.0" y="257" width="1" height="19" fill="#F23645"/>
<rect x="579.0" y="261" width="3" height="7" fill="#F23645"/>
<rect x="584.0" y="249" width="1" height="21" fill="#089981"/>
<rect x="583.0" y="258" width="3" height="10" fill="#089981"/>
<rect x="588.0" y="243" width="1" height="31" fill="#F23645"/>
<rect x="587.0" y="258" width="3" height="12" fill="#F23645"/>
<rect x="592.0" y="261" width="1" height="24" fill="#F23645"/>
<rect x="591.0" y="271" width="3" height="4" fill="#F23645"/>
<rect x="596.0" y="237" width="1" height="32" fill="#089981"/>
<rect x="595.0" y="247" width="3" height="22" fill="#089981"/>
<rect x="600.0" y="237" width="1" height="18" fill="#089981"/>
<rect x="599.0" y="243" width="3" height="6" fill="#089981"/>
<rect x="604.0" y="237" width="1" height="21" fill="#F23645"/>
<rect x="603.0" y="243" width="3" height="9" fill="#F23645"/>
<rect x="608.0" y="237" width="1" height="17" fill="#089981"/>
<rect x="607.0" y="245" width="3" height="8" fill="#089981"/>
<rect x="612.0" y="227" width="1" height="23" fill="#089981"/>
<rect x="611.0" y="227" width="3" height="20" fill="#089981"/>
<rect x="616.0" y="221" width="1" height="13" fill="#089981"/>
<rect x="615.0" y="221" width="3" height="7" fill="#089981"/>
<rect x="620.0" y="212" width="1" height="20" fill="#F23645"/>
<rect x="619.0" y="222" width="3" height="9" fill="#F23645"/>
<rect x="624.0" y="188" width="1" height="44" fill="#089981"/>
<rect x="623.0" y="189" width="3" height="43" fill="#089981"/>
<rect x="628.0" y="181" width="1" height="27" fill="#F23645"/>
<rect x="627.0" y="183" width="3" height="1" fill="#F23645"/>
<rect x="632.0" y="95" width="1" height="93" fill="#089981"/>
<rect x="631.0" y="134" width="3" height="51" fill="#089981"/>
<rect x="636.0" y="111" width="1" height="70" fill="#F23645"/>
<rect x="635.0" y="113" width="3" height="40" fill="#F23645"/>
<rect x="640.0" y="107" width="1" height="53" fill="#089981"/>
<rect x="639.0" y="109" width="3" height="51" fill="#089981"/>
<rect x="644.0" y="104" width="1" height="35" fill="#F23645"/>
<rect x="643.0" y="108" width="3" height="11" fill="#F23645"/>
<rect x="648.0" y="86" width="1" height="38" fill="#089981"/>
<rect x="647.0" y="92" width="3" height="29" fill="#089981"/>
<rect x="652.0" y="104" width="1" height="24" fill="#089981"/>
<rect x="651.0" y="108" width="3" height="4" fill="#089981"/>
<rect x="656.0" y="71" width="1" height="127" fill="#F23645"/>
<rect x="655.0" y="76" width="3" height="116" fill="#F23645"/>
<rect x="660.0" y="185" width="1" height="46" fill="#F23645"/>
<rect x="659.0" y="187" width="3" height="33" fill="#F23645"/>
<rect x="664.0" y="209" width="1" height="17" fill="#F23645"/>
<rect x="663.0" y="219" width="3" height="3" fill="#F23645"/>
<rect x="668.0" y="205" width="1" height="21" fill="#089981"/>
<rect x="667.0" y="219" width="3" height="3" fill="#089981"/>
<rect x="672.0" y="210" width="1" height="14" fill="#F23645"/>
<rect x="671.0" y="219" width="3" height="3" fill="#F23645"/>
<rect x="676.0" y="213" width="1" height="15" fill="#089981"/>
<rect x="675.0" y="223" width="3" height="1" fill="#089981"/>
<rect x="680.0" y="212" width="1" height="15" fill="#089981"/>
<rect x="679.0" y="217" width="3" height="7" fill="#089981"/>
<rect x="684.0" y="194" width="1" height="27" fill="#089981"/>
<rect x="683.0" y="194" width="3" height="24" fill="#089981"/>
<rect x="688.0" y="195" width="1" height="12" fill="#F23645"/>
<rect x="687.0" y="196" width="3" height="4" fill="#F23645"/>
<rect x="692.0" y="199" width="1" height="13" fill="#F23645"/>
<rect x="691.0" y="201" width="3" height="7" fill="#F23645"/>
<rect x="696.0" y="186" width="1" height="32" fill="#089981"/>
<rect x="695.0" y="191" width="3" height="27" fill="#089981"/>
<rect x="700.0" y="179" width="1" height="19" fill="#089981"/>
<rect x="699.0" y="188" width="3" height="5" fill="#089981"/>
<rect x="704.0" y="180" width="1" height="13" fill="#089981"/>
<rect x="703.0" y="188" width="3" height="1" fill="#089981"/>
<rect x="708.0" y="183" width="1" height="26" fill="#F23645"/>
<rect x="707.0" y="189" width="3" height="17" fill="#F23645"/>
<rect x="712.0" y="183" width="1" height="26" fill="#089981"/>
<rect x="711.0" y="184" width="3" height="22" fill="#089981"/>
<rect x="716.0" y="174" width="1" height="33" fill="#F23645"/>
<rect x="715.0" y="184" width="3" height="22" fill="#F23645"/>
<rect x="720.0" y="202" width="1" height="10" fill="#F23645"/>
<rect x="719.0" y="206" width="3" height="2" fill="#F23645"/>
<rect x="724.0" y="205" width="1" height="18" fill="#F23645"/>
<rect x="723.0" y="208" width="3" height="2" fill="#F23645"/>
<rect x="728.0" y="199" width="1" height="17" fill="#089981"/>
<rect x="727.0" y="200" width="3" height="12" fill="#089981"/>
<rect x="732.0" y="185" width="1" height="19" fill="#F23645"/>
<rect x="731.0" y="201" width="3" height="3" fill="#F23645"/>
<rect x="736.0" y="199" width="1" height="15" fill="#F23645"/>
<rect x="735.0" y="204" width="3" height="4" fill="#F23645"/>
<rect x="740.0" y="207" width="1" height="12" fill="#F23645"/>
<rect x="739.0" y="208" width="3" height="4" fill="#F23645"/>
<rect x="744.0" y="208" width="1" height="13" fill="#F23645"/>
<rect x="743.0" y="212" width="3" height="1" fill="#F23645"/>
<rect x="748.0" y="201" width="1" height="13" fill="#089981"/>
<rect x="747.0" y="204" width="3" height="9" fill="#089981"/>
<rect x="752.0" y="198" width="1" height="21" fill="#F23645"/>
<rect x="751.0" y="205" width="3" height="14" fill="#F23645"/>
<rect x="756.0" y="193" width="1" height="26" fill="#089981"/>
<rect x="755.0" y="195" width="3" height="24" fill="#089981"/>
<rect x="760.0" y="162" width="1" height="38" fill="#089981"/>
<rect x="759.0" y="168" width="3" height="27" fill="#089981"/>
<rect x="764.0" y="154" width="1" height="24" fill="#089981"/>
<rect x="763.0" y="156" width="3" height="11" fill="#089981"/>
<rect x="768.0" y="156" width="1" height="22" fill="#F23645"/>
<rect x="767.0" y="157" width="3" height="11" fill="#F23645"/>
<rect x="772.0" y="167" width="1" height="31" fill="#F23645"/>
<rect x="771.0" y="169" width="3" height="28" fill="#F23645"/>
<rect x="776.0" y="190" width="1" height="27" fill="#F23645"/>
<rect x="775.0" y="201" width="3" height="8" fill="#F23645"/>
<rect x="780.0" y="206" width="1" height="17" fill="#F23645"/>
<rect x="779.0" y="208" width="3" height="14" fill="#F23645"/>
<rect x="784.0" y="203" width="1" height="37" fill="#F23645"/>
<rect x="783.0" y="222" width="3" height="11" fill="#F23645"/>
<rect x="788.0" y="223" width="1" height="16" fill="#F23645"/>
<rect x="787.0" y="231" width="3" height="8" fill="#F23645"/>
<rect x="792.0" y="229" width="1" height="21" fill="#F23645"/>
<rect x="791.0" y="238" width="3" height="7" fill="#F23645"/>
<rect x="796.0" y="232" width="1" height="16" fill="#089981"/>
<rect x="795.0" y="237" width="3" height="10" fill="#089981"/>
<rect x="800.0" y="233" width="1" height="15" fill="#F23645"/>
<rect x="799.0" y="237" width="3" height="11" fill="#F23645"/>
<rect x="804.0" y="245" width="1" height="15" fill="#F23645"/>
<rect x="803.0" y="249" width="3" height="4" fill="#F23645"/>
<rect x="808.0" y="238" width="1" height="16" fill="#089981"/>
<rect x="807.0" y="240" width="3" height="13" fill="#089981"/>
<rect x="812.0" y="237" width="1" height="17" fill="#F23645"/>
<rect x="811.0" y="241" width="3" height="9" fill="#F23645"/>
<rect x="816.0" y="241" width="1" height="19" fill="#089981"/>
<rect x="815.0" y="246" width="3" height="8" fill="#089981"/>
<rect x="820.0" y="245" width="1" height="13" fill="#F23645"/>
<rect x="819.0" y="247" width="3" height="7" fill="#F23645"/>
<rect x="824.0" y="241" width="1" height="15" fill="#089981"/>
<rect x="823.0" y="243" width="3" height="12" fill="#089981"/>
<rect x="828.0" y="233" width="1" height="14" fill="#089981"/>
<rect x="827.0" y="236" width="3" height="8" fill="#089981"/>
<rect x="832.0" y="230" width="1" height="8" fill="#089981"/>
<rect x="831.0" y="232" width="3" height="5" fill="#089981"/>
<rect x="836.0" y="216" width="1" height="19" fill="#089981"/>
<rect x="835.0" y="220" width="3" height="13" fill="#089981"/>
<rect x="840.0" y="221" width="1" height="19" fill="#F23645"/>
<rect x="839.0" y="221" width="3" height="19" fill="#F23645"/>
<rect x="844.0" y="228" width="1" height="15" fill="#089981"/>
<rect x="843.0" y="232" width="3" height="7" fill="#089981"/>
<rect x="848.0" y="222" width="1" height="16" fill="#089981"/>
<rect x="847.0" y="227" width="3" height="7" fill="#089981"/>
<rect x="852.0" y="224" width="1" height="9" fill="#F23645"/>
<rect x="851.0" y="228" width="3" height="4" fill="#F23645"/>
<rect x="856.0" y="220" width="1" height="15" fill="#089981"/>
<rect x="855.0" y="223" width="3" height="9" fill="#089981"/>
<rect x="860.0" y="207" width="1" height="18" fill="#089981"/>
<rect x="859.0" y="211" width="3" height="14" fill="#089981"/>
<rect x="864.0" y="210" width="1" height="25" fill="#F23645"/>
<rect x="863.0" y="212" width="3" height="23" fill="#F23645"/>
<rect x="868.0" y="233" width="1" height="14" fill="#F23645"/>
<rect x="867.0" y="233" width="3" height="7" fill="#F23645"/>
<rect x="872.0" y="238" width="1" height="25" fill="#F23645"/>
<rect x="871.0" y="240" width="3" height="16" fill="#F23645"/>
<rect x="876.0" y="240" width="1" height="18" fill="#089981"/>
<rect x="875.0" y="251" width="3" height="5" fill="#089981"/>
<rect x="880.0" y="236" width="1" height="16" fill="#089981"/>
<rect x="879.0" y="246" width="3" height="6" fill="#089981"/>
<rect x="884.0" y="231" width="1" height="17" fill="#089981"/>
<rect x="883.0" y="234" width="3" height="14" fill="#089981"/>
<rect x="888.0" y="234" width="1" height="20" fill="#F23645"/>
<rect x="887.0" y="235" width="3" height="19" fill="#F23645"/>
<rect x="892.0" y="232" width="1" height="28" fill="#089981"/>
<rect x="891.0" y="248" width="3" height="6" fill="#089981"/>
<rect x="896.0" y="236" width="1" height="13" fill="#089981"/>
<rect x="895.0" y="240" width="3" height="7" fill="#089981"/>
<rect x="900.0" y="223" width="1" height="22" fill="#089981"/>
<rect x="899.0" y="226" width="3" height="15" fill="#089981"/>
<rect x="904.0" y="224" width="1" height="12" fill="#F23645"/>
<rect x="903.0" y="227" width="3" height="7" fill="#F23645"/>
<rect x="908.0" y="226" width="1" height="14" fill="#F23645"/>
<rect x="907.0" y="233" width="3" height="4" fill="#F23645"/>
<rect x="912.0" y="237" width="1" height="14" fill="#F23645"/>
<rect x="911.0" y="237" width="3" height="13" fill="#F23645"/>
<rect x="916.0" y="241" width="1" height="17" fill="#F23645"/>
<rect x="915.0" y="249" width="3" height="1" fill="#F23645"/>
<rect x="920.0" y="231" width="1" height="25" fill="#089981"/>
<rect x="919.0" y="234" width="3" height="17" fill="#089981"/>
<rect x="924.0" y="217" width="1" height="22" fill="#089981"/>
<rect x="923.0" y="220" width="3" height="15" fill="#089981"/>
<rect x="928.0" y="214" width="1" height="15" fill="#089981"/>
<rect x="927.0" y="215" width="3" height="6" fill="#089981"/>
<rect x="932.0" y="201" width="1" height="20" fill="#F23645"/>
<rect x="931.0" y="216" width="3" height="1" fill="#F23645"/>
<rect x="936.0" y="213" width="1" height="30" fill="#F23645"/>
<rect x="935.0" y="218" width="3" height="23" fill="#F23645"/>
<rect x="940.0" y="240" width="1" height="15" fill="#F23645"/>
<rect x="939.0" y="241" width="3" height="10" fill="#F23645"/>
<rect x="944.0" y="244" width="1" height="18" fill="#F23645"/>
<rect x="943.0" y="249" width="3" height="10" fill="#F23645"/>
<rect x="948.0" y="249" width="1" height="26" fill="#F23645"/>
<rect x="947.0" y="258" width="3" height="14" fill="#F23645"/>
<rect x="952.0" y="263" width="1" height="10" fill="#089981"/>
<rect x="951.0" y="271" width="3" height="1" fill="#089981"/>
<rect x="956.0" y="255" width="1" height="11" fill="#089981"/>
<rect x="955.0" y="259" width="3" height="7" fill="#089981"/>
<rect x="960.0" y="254" width="1" height="16" fill="#089981"/>
<rect x="959.0" y="255" width="3" height="14" fill="#089981"/>
<rect x="964.0" y="247" width="1" height="8" fill="#089981"/>
<rect x="963.0" y="254" width="3" height="1" fill="#089981"/>
<rect x="968.0" y="247" width="1" height="20" fill="#F23645"/>
<rect x="967.0" y="254" width="3" height="10" fill="#F23645"/>
<rect x="972.0" y="262" width="1" height="42" fill="#F23645"/>
<rect x="971.0" y="264" width="3" height="40" fill="#F23645"/>
<rect x="976.0" y="281" width="1" height="13" fill="#089981"/>
<rect x="975.0" y="287" width="3" height="7" fill="#089981"/>
<rect x="980.0" y="285" width="1" height="26" fill="#F23645"/>
<rect x="979.0" y="287" width="3" height="14" fill="#F23645"/>
<rect x="984.0" y="291" width="1" height="14" fill="#089981"/>
<rect x="983.0" y="298" width="3" height="1" fill="#089981"/>
<rect x="988.0" y="295" width="1" height="21" fill="#F23645"/>
<rect x="987.0" y="298" width="3" height="18" fill="#F23645"/>
<rect x="992.0" y="311" width="1" height="14" fill="#089981"/>
<rect x="991.0" y="312" width="3" height="4" fill="#089981"/>
<rect x="996.0" y="309" width="1" height="18" fill="#F23645"/>
<rect x="995.0" y="314" width="3" height="2" fill="#F23645"/>
<rect x="1000.0" y="302" width="1" height="21" fill="#089981"/>
<rect x="999.0" y="308" width="3" height="8" fill="#089981"/>
<rect x="1004.0" y="280" width="1" height="31" fill="#089981"/>
<rect x="1003.0" y="286" width="3" height="23" fill="#089981"/>
<rect x="1008.0" y="252" width="1" height="31" fill="#089981"/>
<rect x="1007.0" y="258" width="3" height="23" fill="#089981"/>
<rect x="1012.0" y="248" width="1" height="16" fill="#F23645"/>
<rect x="1011.0" y="258" width="3" height="5" fill="#F23645"/>
<rect x="1016.0" y="253" width="1" height="18" fill="#F23645"/>
<rect x="1015.0" y="257" width="3" height="5" fill="#F23645"/>
<rect x="1020.0" y="262" width="1" height="20" fill="#F23645"/>
<rect x="1019.0" y="262" width="3" height="16" fill="#F23645"/>
<rect x="1024.0" y="267" width="1" height="16" fill="#089981"/>
<rect x="1023.0" y="275" width="3" height="3" fill="#089981"/>
<rect x="1028.0" y="270" width="1" height="14" fill="#F23645"/>
<rect x="1027.0" y="275" width="3" height="2" fill="#F23645"/>
<rect x="1032.0" y="263" width="1" height="16" fill="#089981"/>
<rect x="1031.0" y="269" width="3" height="9" fill="#089981"/>
<rect x="1036.0" y="262" width="1" height="11" fill="#F23645"/>
<rect x="1035.0" y="264" width="3" height="2" fill="#F23645"/>
<rect x="1040.0" y="266" width="1" height="14" fill="#F23645"/>
<rect x="1039.0" y="266" width="3" height="10" fill="#F23645"/>
<rect x="1044.0" y="267" width="1" height="18" fill="#F23645"/>
<rect x="1043.0" y="275" width="3" height="10" fill="#F23645"/>
<rect x="1048.0" y="273" width="1" height="20" fill="#F23645"/>
<rect x="1047.0" y="284" width="3" height="1" fill="#F23645"/>
<rect x="1052.0" y="273" width="1" height="14" fill="#089981"/>
<rect x="1051.0" y="281" width="3" height="4" fill="#089981"/>
<rect x="1056.0" y="273" width="1" height="12" fill="#089981"/>
<rect x="1055.0" y="277" width="3" height="4" fill="#089981"/>
<rect x="1060.0" y="264" width="1" height="18" fill="#089981"/>
<rect x="1059.0" y="267" width="3" height="11" fill="#089981"/>
<rect x="1064.0" y="265" width="1" height="33" fill="#F23645"/>
<rect x="1063.0" y="267" width="3" height="31" fill="#F23645"/>
<rect x="1068.0" y="288" width="1" height="13" fill="#089981"/>
<rect x="1067.0" y="295" width="3" height="3" fill="#089981"/>
<rect x="1072.0" y="272" width="1" height="25" fill="#089981"/>
<rect x="1071.0" y="281" width="3" height="15" fill="#089981"/>
<rect x="1076.0" y="274" width="1" height="13" fill="#089981"/>
<rect x="1075.0" y="281" width="3" height="2" fill="#089981"/>
<rect x="1080.0" y="267" width="1" height="20" fill="#089981"/>
<rect x="1079.0" y="269" width="3" height="13" fill="#089981"/>
<rect x="1084.0" y="269" width="1" height="25" fill="#F23645"/>
<rect x="1083.0" y="269" width="3" height="18" fill="#F23645"/>
<rect x="1088.0" y="277" width="1" height="19" fill="#F23645"/>
<rect x="1087.0" y="287" width="3" height="8" fill="#F23645"/>
<rect x="1092.0" y="293" width="1" height="17" fill="#F23645"/>
<rect x="1091.0" y="294" width="3" height="10" fill="#F23645"/>
<rect x="1096.0" y="290" width="1" height="20" fill="#089981"/>
<rect x="1095.0" y="291" width="3" height="11" fill="#089981"/>
<rect x="1100.0" y="291" width="1" height="23" fill="#F23645"/>
<rect x="1099.0" y="291" width="3" height="13" fill="#F23645"/>
<rect x="1104.0" y="294" width="1" height="13" fill="#089981"/>
<rect x="1103.0" y="296" width="3" height="9" fill="#089981"/>
<rect x="1108.0" y="289" width="1" height="11" fill="#089981"/>
<rect x="1107.0" y="290" width="3" height="7" fill="#089981"/>
<rect x="1112.0" y="284" width="1" height="8" fill="#089981"/>
<rect x="1111.0" y="285" width="3" height="7" fill="#089981"/>
<rect x="1116.0" y="280" width="1" height="14" fill="#089981"/>
<rect x="1115.0" y="287" width="3" height="7" fill="#089981"/>
<rect x="1120.0" y="283" width="1" height="17" fill="#F23645"/>
<rect x="1119.0" y="286" width="3" height="11" fill="#F23645"/>
<rect x="1124.0" y="284" width="1" height="15" fill="#089981"/>
<rect x="1123.0" y="291" width="3" height="6" fill="#089981"/>
<rect x="1128.0" y="280" width="1" height="14" fill="#089981"/>
<rect x="1127.0" y="284" width="3" height="8" fill="#089981"/>
<rect x="1132.0" y="274" width="1" height="14" fill="#089981"/>
<rect x="1131.0" y="279" width="3" height="6" fill="#089981"/>
<rect x="1136.0" y="276" width="1" height="20" fill="#F23645"/>
<rect x="1135.0" y="278" width="3" height="17" fill="#F23645"/>
<rect x="1140.0" y="290" width="1" height="12" fill="#F23645"/>
<rect x="1139.0" y="294" width="3" height="7" fill="#F23645"/>
<rect x="1144.0" y="291" width="1" height="17" fill="#089981"/>
<rect x="1143.0" y="293" width="3" height="8" fill="#089981"/>
<rect x="1148.0" y="292" width="1" height="24" fill="#F23645"/>
<rect x="1147.0" y="293" width="3" height="14" fill="#F23645"/>
<rect x="1152.0" y="302" width="1" height="13" fill="#F23645"/>
<rect x="1151.0" y="306" width="3" height="6" fill="#F23645"/>
<rect x="1156.0" y="307" width="1" height="17" fill="#F23645"/>
<rect x="1155.0" y="311" width="3" height="11" fill="#F23645"/>
<rect x="1160.0" y="320" width="1" height="21" fill="#F23645"/>
<rect x="1159.0" y="321" width="3" height="19" fill="#F23645"/>
<rect x="1164.0" y="319" width="1" height="21" fill="#089981"/>
<rect x="1163.0" y="320" width="3" height="20" fill="#089981"/>
<rect x="1168.0" y="318" width="1" height="12" fill="#F23645"/>
<rect x="1167.0" y="320" width="3" height="10" fill="#F23645"/>
<rect x="1172.0" y="318" width="1" height="14" fill="#089981"/>
<rect x="1171.0" y="321" width="3" height="9" fill="#089981"/>
<rect x="1176.0" y="302" width="1" height="17" fill="#089981"/>
<rect x="1175.0" y="303" width="3" height="16" fill="#089981"/>
<rect x="1180.0" y="297" width="1" height="9" fill="#089981"/>
<rect x="1179.0" y="297" width="3" height="6" fill="#089981"/>
<rect x="1184.0" y="294" width="1" height="7" fill="#F23645"/>
<rect x="1183.0" y="297" width="3" height="3" fill="#F23645"/>
<rect x="1188.0" y="293" width="1" height="27" fill="#F23645"/>
<rect x="1187.0" y="298" width="3" height="20" fill="#F23645"/>
<rect x="1192.0" y="300" width="1" height="17" fill="#089981"/>
<rect x="1191.0" y="305" width="3" height="12" fill="#089981"/>
<rect x="1196.0" y="298" width="1" height="10" fill="#089981"/>
<rect x="1195.0" y="304" width="3" height="1" fill="#089981"/>
<rect x="1200.0" y="297" width="1" height="16" fill="#F23645"/>
<rect x="1199.0" y="304" width="3" height="8" fill="#F23645"/>
<rect x="1204.0" y="310" width="1" height="2" fill="#F23645"/>
<rect x="1203.0" y="311" width="3" height="1" fill="#F23645"/>
<rect x="1208.0" y="305" width="1" height="16" fill="#F23645"/>
<rect x="1207.0" y="310" width="3" height="3" fill="#F23645"/>
<rect x="1212.0" y="298" width="1" height="27" fill="#089981"/>
<rect x="1211.0" y="300" width="3" height="15" fill="#089981"/>
<rect x="1216.0" y="294" width="1" height="24" fill="#F23645"/>
<rect x="1215.0" y="300" width="3" height="18" fill="#F23645"/>
<rect x="1220.0" y="314" width="1" height="17" fill="#F23645"/>
<rect x="1219.0" y="317" width="3" height="8" fill="#F23645"/>
<rect x="1224.0" y="295" width="1" height="33" fill="#089981"/>
<rect x="1223.0" y="296" width="3" height="29" fill="#089981"/>
<rect x="1228.0" y="282" width="1" height="26" fill="#089981"/>
<rect x="1227.0" y="294" width="3" height="2" fill="#089981"/>
<rect x="1232.0" y="282" width="1" height="15" fill="#089981"/>
<rect x="1231.0" y="286" width="3" height="6" fill="#089981"/>
<rect x="1236.0" y="262" width="1" height="25" fill="#089981"/>
<rect x="1235.0" y="267" width="3" height="20" fill="#089981"/>
<rect x="1240.0" y="250" width="1" height="39" fill="#F23645"/>
<rect x="1239.0" y="267" width="3" height="10" fill="#F23645"/>
<rect x="1244.0" y="257" width="1" height="37" fill="#F23645"/>
<rect x="1243.0" y="276" width="3" height="11" fill="#F23645"/>
</g>
</g>
<line x1="4" y1="287.5" x2="1564" y2="287.5" stroke="#F23645" stroke-width="1" stroke-dasharray="1 2" shape-rendering="crispEdges"/>
<g clip-path="url(#cr)">
<polyline points="1.5,457.34 5.5,455.30 9.5,457.15 13.5,456.00 17.5,470.73 21.5,486.86 25.5,488.94 29.5,487.86 33.5,482.83 37.5,496.33 41.5,472.49 45.5,470.31 49.5,473.69 53.5,462.00 57.5,454.27 61.5,475.26 65.5,478.74 69.5,477.32 73.5,474.68 77.5,479.64 81.5,485.41 85.5,463.12 89.5,475.71 93.5,479.89 97.5,491.76 101.5,479.94 105.5,476.89 109.5,457.63 113.5,460.54 117.5,449.90 121.5,458.26 125.5,462.96 129.5,467.21 133.5,472.03 137.5,466.07 141.5,467.50 145.5,459.28 149.5,459.28 153.5,468.46 157.5,457.64 161.5,446.80 165.5,438.29 169.5,437.78 173.5,424.17 177.5,416.14 181.5,430.57 185.5,421.35 189.5,438.01 193.5,429.29 197.5,409.58 201.5,400.21 205.5,411.67 209.5,396.38 213.5,417.98 217.5,424.89 221.5,439.39 225.5,443.48 229.5,452.31 233.5,465.95 237.5,462.47 241.5,480.84 245.5,471.40 249.5,482.22 253.5,481.17 257.5,478.42 261.5,482.74 265.5,484.38 269.5,500.98 273.5,506.38 276.5,498.18 280.5,476.98 284.5,466.64 288.5,488.73 292.5,486.15 296.5,492.69 300.5,483.12 304.5,477.90 308.5,470.81 312.5,467.55 316.5,495.85 320.5,486.38 324.5,504.01 328.5,507.26 332.5,487.68 336.5,489.31 340.5,506.40 344.5,507.58 348.5,521.91 352.5,523.05 356.5,509.05 360.5,519.19 364.5,507.23 368.5,491.86 372.5,501.13 376.5,494.46 380.5,489.99 384.5,497.88 388.5,490.01 392.5,471.94 396.5,473.24 400.5,462.06 404.5,460.99 408.5,452.89 412.5,453.41 416.5,467.90 420.5,439.34 424.5,443.75 428.5,451.42 432.5,497.97 436.5,525.54 440.5,532.14 444.5,544.40 448.5,500.06 452.5,511.85 456.5,502.22 460.5,501.21 464.5,502.18 468.5,492.88 472.5,478.75 476.5,485.98 480.5,479.02 484.5,488.39 488.5,483.51 492.5,480.67 496.5,490.81 500.5,502.84 504.5,514.23 508.5,506.13 512.5,509.13 516.5,516.12 520.5,498.11 524.5,504.76 528.5,482.14 532.5,476.18 536.5,468.35 540.5,455.56 544.5,462.92 548.5,472.93 552.5,466.94 556.5,465.57 560.5,464.41 564.5,473.88 568.5,479.63 572.5,469.32 576.5,472.25 580.5,477.53 584.5,468.47 588.5,479.27 592.5,483.11 596.5,457.37 600.5,454.60 604.5,463.02 608.5,457.06 612.5,442.66 616.5,438.21 620.5,449.22 624.5,421.80 628.5,419.24 632.5,397.76 636.5,416.65 640.5,400.75 644.5,409.08 648.5,400.43 652.5,414.12 656.5,466.47 660.5,479.14 664.5,480.28 668.5,478.64 672.5,479.70 676.5,480.65 680.5,476.48 684.5,462.49 688.5,466.05 692.5,471.60 696.5,460.47 700.5,458.69 704.5,458.16 708.5,472.09 712.5,456.95 716.5,472.91 720.5,474.22 724.5,475.79 728.5,467.45 732.5,471.06 736.5,473.70 740.5,477.51 744.5,477.85 748.5,469.24 752.5,482.72 756.5,460.38 760.5,440.68 764.5,432.84 768.5,445.19 772.5,469.71 776.5,478.12 780.5,487.11 784.5,494.70 788.5,498.12 792.5,502.06 796.5,493.93 800.5,501.33 804.5,504.77 808.5,490.63 812.5,498.00 816.5,493.76 820.5,499.68 824.5,487.56 828.5,479.91 832.5,475.75 836.5,463.11 840.5,482.07 844.5,474.37 848.5,469.37 852.5,474.36 856.5,464.75 860.5,452.77 864.5,477.16 868.5,482.35 872.5,495.69 876.5,489.58 880.5,483.75 884.5,470.86 888.5,488.65 892.5,482.67 896.5,474.07 900.5,460.28 904.5,468.52 908.5,471.77 912.5,484.00 916.5,484.00 920.5,466.20 924.5,452.52 928.5,447.87 932.5,450.29 936.5,477.18 940.5,486.05 944.5,493.11 948.5,503.67 952.5,502.84 956.5,487.36 960.5,483.05 964.5,481.44 968.5,491.41 972.5,522.03 976.5,501.93 980.5,511.01 984.5,507.97 988.5,519.12 992.5,514.78 996.5,517.54 1000.5,506.89 1004.5,481.37 1008.5,456.13 1012.5,461.12 1016.5,459.81 1020.5,474.79 1024.5,472.32 1028.5,473.56 1032.5,465.92 1036.5,462.85 1040.5,473.26 1044.5,482.57 1048.5,483.10 1052.5,478.05 1056.5,472.64 1060.5,459.99 1064.5,493.40 1068.5,490.15 1072.5,472.74 1076.5,473.29 1080.5,459.44 1084.5,478.88 1088.5,486.83 1092.5,494.71 1096.5,479.37 1100.5,491.89 1104.5,482.22 1108.5,475.31 1112.5,469.34 1116.5,471.51 1120.5,482.71 1124.5,475.49 1128.5,466.93 1132.5,460.90 1136.5,479.91 1140.5,486.03 1144.5,475.56 1148.5,490.46 1152.5,495.33 1156.5,504.75 1160.5,519.14 1164.5,492.54 1168.5,500.29 1172.5,489.44 1176.5,470.16 1180.5,464.88 1184.5,467.32 1188.5,485.41 1192.5,471.54 1196.5,470.47 1200.5,478.33 1204.5,478.02 1208.5,479.45 1212.5,463.45 1216.5,483.23 1220.5,490.31 1224.5,458.94 1228.5,457.40 1232.5,449.91 1236.5,434.16 1240.5,446.03 1244.5,457.66" fill="none" stroke="#9c52c6" stroke-width="1.1" stroke-linejoin="round"/>
</g><g clip-path="url(#cm)">
<g shape-rendering="crispEdges">
<rect x="0.0" y="668" width="2" height="3" fill="#ffcdd2"/>
<rect x="4.0" y="667" width="2" height="2" fill="#0b9e85"/>
<rect x="8.0" y="665" width="2" height="4" fill="#0b9e85"/>
<rect x="12.0" y="664" width="2" height="5" fill="#0b9e85"/>
<rect x="16.0" y="666" width="2" height="3" fill="#ace5dc"/>
<rect x="20.0" y="668" width="2" height="3" fill="#ff5252"/>
<rect x="24.0" y="668" width="2" height="7" fill="#ff5252"/>
<rect x="28.0" y="668" width="2" height="8" fill="#ff5252"/>
<rect x="32.0" y="668" width="2" height="8" fill="#ffcdd2"/>
<rect x="36.0" y="668" width="2" height="11" fill="#ff5252"/>
<rect x="40.0" y="668" width="2" height="7" fill="#ffcdd2"/>
<rect x="44.0" y="668" width="2" height="4" fill="#ffcdd2"/>
<rect x="48.0" y="668" width="2" height="3" fill="#ffcdd2"/>
<rect x="52.0" y="667" width="2" height="2" fill="#0b9e85"/>
<rect x="56.0" y="664" width="2" height="5" fill="#0b9e85"/>
<rect x="60.0" y="665" width="2" height="4" fill="#ace5dc"/>
<rect x="64.0" y="667" width="2" height="2" fill="#ace5dc"/>
<rect x="68.0" y="668" width="2" height="1" fill="#ace5dc"/>
<rect x="72.0" y="668" width="2" height="1" fill="#ace5dc"/>
<rect x="76.0" y="668" width="2" height="1" fill="#ff5252"/>
<rect x="80.0" y="668" width="2" height="3" fill="#ff5252"/>
<rect x="84.0" y="668" width="2" height="1" fill="#0b9e85"/>
<rect x="88.0" y="668" width="2" height="1" fill="#ace5dc"/>
<rect x="92.0" y="668" width="2" height="1" fill="#ff5252"/>
<rect x="96.0" y="668" width="2" height="4" fill="#ff5252"/>
<rect x="100.0" y="668" width="2" height="3" fill="#ffcdd2"/>
<rect x="104.0" y="668" width="2" height="2" fill="#ffcdd2"/>
<rect x="108.0" y="666" width="2" height="3" fill="#0b9e85"/>
<rect x="112.0" y="664" width="2" height="5" fill="#0b9e85"/>
<rect x="116.0" y="661" width="2" height="8" fill="#0b9e85"/>
<rect x="120.0" y="661" width="2" height="8" fill="#0b9e85"/>
<rect x="124.0" y="662" width="2" height="7" fill="#ace5dc"/>
<rect x="128.0" y="663" width="2" height="6" fill="#ace5dc"/>
<rect x="132.0" y="665" width="2" height="4" fill="#ace5dc"/>
<rect x="136.0" y="666" width="2" height="3" fill="#ace5dc"/>
<rect x="140.0" y="666" width="2" height="3" fill="#ace5dc"/>
<rect x="144.0" y="666" width="2" height="3" fill="#0b9e85"/>
<rect x="148.0" y="665" width="2" height="4" fill="#0b9e85"/>
<rect x="152.0" y="666" width="2" height="3" fill="#ace5dc"/>
<rect x="156.0" y="666" width="2" height="3" fill="#0b9e85"/>
<rect x="160.0" y="664" width="2" height="5" fill="#0b9e85"/>
<rect x="164.0" y="662" width="2" height="7" fill="#0b9e85"/>
<rect x="168.0" y="661" width="2" height="8" fill="#0b9e85"/>
<rect x="172.0" y="659" width="2" height="10" fill="#0b9e85"/>
<rect x="176.0" y="657" width="2" height="12" fill="#0b9e85"/>
<rect x="180.0" y="658" width="2" height="11" fill="#ace5dc"/>
<rect x="184.0" y="657" width="2" height="12" fill="#0b9e85"/>
<rect x="188.0" y="659" width="2" height="10" fill="#ace5dc"/>
<rect x="192.0" y="660" width="2" height="9" fill="#ace5dc"/>
<rect x="196.0" y="657" width="2" height="12" fill="#0b9e85"/>
<rect x="200.0" y="653" width="2" height="16" fill="#0b9e85"/>
<rect x="204.0" y="653" width="2" height="16" fill="#ace5dc"/>
<rect x="208.0" y="650" width="2" height="19" fill="#0b9e85"/>
<rect x="212.0" y="651" width="2" height="18" fill="#ace5dc"/>
<rect x="216.0" y="655" width="2" height="14" fill="#ace5dc"/>
<rect x="220.0" y="660" width="2" height="9" fill="#ace5dc"/>
<rect x="224.0" y="664" width="2" height="5" fill="#ace5dc"/>
<rect x="228.0" y="668" width="2" height="1" fill="#ff5252"/>
<rect x="232.0" y="668" width="2" height="7" fill="#ff5252"/>
<rect x="236.0" y="668" width="2" height="9" fill="#ff5252"/>
<rect x="240.0" y="668" width="2" height="14" fill="#ff5252"/>
<rect x="244.0" y="668" width="2" height="15" fill="#ff5252"/>
<rect x="248.0" y="668" width="2" height="17" fill="#ff5252"/>
<rect x="252.0" y="668" width="2" height="18" fill="#ff5252"/>
<rect x="256.0" y="668" width="2" height="17" fill="#ffcdd2"/>
<rect x="260.0" y="668" width="2" height="17" fill="#ffcdd2"/>
<rect x="264.0" y="668" width="2" height="16" fill="#ffcdd2"/>
<rect x="268.0" y="668" width="2" height="18" fill="#ff5252"/>
<rect x="272.0" y="668" width="2" height="19" fill="#ff5252"/>
<rect x="275.0" y="668" width="2" height="18" fill="#ffcdd2"/>
<rect x="279.0" y="668" width="2" height="14" fill="#ffcdd2"/>
<rect x="283.0" y="668" width="2" height="9" fill="#ffcdd2"/>
<rect x="287.0" y="668" width="2" height="9" fill="#ff5252"/>
<rect x="291.0" y="668" width="2" height="8" fill="#ffcdd2"/>
<rect x="295.0" y="668" width="2" height="8" fill="#ff5252"/>
<rect x="299.0" y="668" width="2" height="7" fill="#ffcdd2"/>
<rect x="303.0" y="668" width="2" height="5" fill="#ffcdd2"/>
<rect x="307.0" y="668" width="2" height="2" fill="#ffcdd2"/>
<rect x="311.0" y="668" width="2" height="1" fill="#0b9e85"/>
<rect x="315.0" y="668" width="2" height="3" fill="#ff5252"/>
<rect x="319.0" y="668" width="2" height="3" fill="#ff5252"/>
<rect x="323.0" y="668" width="2" height="6" fill="#ff5252"/>
<rect x="327.0" y="668" width="2" height="8" fill="#ff5252"/>
<rect x="331.0" y="668" width="2" height="7" fill="#ffcdd2"/>
<rect x="335.0" y="668" width="2" height="5" fill="#ffcdd2"/>
<rect x="339.0" y="668" width="2" height="7" fill="#ff5252"/>
<rect x="343.0" y="668" width="2" height="8" fill="#ff5252"/>
<rect x="347.0" y="668" width="2" height="11" fill="#ff5252"/>
<rect x="351.0" y="668" width="2" height="13" fill="#ff5252"/>
<rect x="355.0" y="668" width="2" height="11" fill="#ffcdd2"/>
<rect x="359.0" y="668" width="2" height="12" fill="#ff5252"/>
<rect x="363.0" y="668" width="2" height="10" fill="#ffcdd2"/>
<rect x="367.0" y="668" width="2" height="6" fill="#ffcdd2"/>
<rect x="371.0" y="668" width="2" height="4" fill="#ffcdd2"/>
<rect x="375.0" y="668" width="2" height="2" fill="#ffcdd2"/>
<rect x="379.0" y="668" width="2" height="1" fill="#0b9e85"/>
<rect x="383.0" y="667" width="2" height="2" fill="#0b9e85"/>
<rect x="387.0" y="666" width="2" height="3" fill="#0b9e85"/>
<rect x="391.0" y="662" width="2" height="7" fill="#0b9e85"/>
<rect x="395.0" y="660" width="2" height="9" fill="#0b9e85"/>
<rect x="399.0" y="658" width="2" height="11" fill="#0b9e85"/>
<rect x="403.0" y="656" width="2" height="13" fill="#0b9e85"/>
<rect x="407.0" y="655" width="2" height="14" fill="#0b9e85"/>
<rect x="411.0" y="654" width="2" height="15" fill="#0b9e85"/>
<rect x="415.0" y="656" width="2" height="13" fill="#ace5dc"/>
<rect x="419.0" y="653" width="2" height="16" fill="#0b9e85"/>
<rect x="423.0" y="653" width="2" height="16" fill="#0b9e85"/>
<rect x="427.0" y="654" width="2" height="15" fill="#ace5dc"/>
<rect x="431.0" y="663" width="2" height="6" fill="#ace5dc"/>
<rect x="435.0" y="668" width="2" height="8" fill="#ff5252"/>
<rect x="439.0" y="668" width="2" height="19" fill="#ff5252"/>
<rect x="443.0" y="668" width="2" height="29" fill="#ff5252"/>
<rect x="447.0" y="668" width="2" height="26" fill="#ffcdd2"/>
<rect x="451.0" y="668" width="2" height="27" fill="#ff5252"/>
<rect x="455.0" y="668" width="2" height="24" fill="#ffcdd2"/>
<rect x="459.0" y="668" width="2" height="20" fill="#ffcdd2"/>
<rect x="463.0" y="668" width="2" height="16" fill="#ffcdd2"/>
<rect x="467.0" y="668" width="2" height="11" fill="#ffcdd2"/>
<rect x="471.0" y="668" width="2" height="4" fill="#ffcdd2"/>
<rect x="475.0" y="668" width="2" height="1" fill="#ffcdd2"/>
<rect x="479.0" y="665" width="2" height="4" fill="#0b9e85"/>
<rect x="483.0" y="664" width="2" height="5" fill="#0b9e85"/>
<rect x="487.0" y="663" width="2" height="6" fill="#0b9e85"/>
<rect x="491.0" y="661" width="2" height="8" fill="#0b9e85"/>
<rect x="495.0" y="663" width="2" height="6" fill="#ace5dc"/>
<rect x="499.0" y="667" width="2" height="2" fill="#ace5dc"/>
<rect x="503.0" y="668" width="2" height="4" fill="#ff5252"/>
<rect x="507.0" y="668" width="2" height="6" fill="#ff5252"/>
<rect x="511.0" y="668" width="2" height="7" fill="#ff5252"/>
<rect x="515.0" y="668" width="2" height="9" fill="#ff5252"/>
<rect x="519.0" y="668" width="2" height="6" fill="#ffcdd2"/>
<rect x="523.0" y="668" width="2" height="6" fill="#ffcdd2"/>
<rect x="527.0" y="668" width="2" height="1" fill="#ffcdd2"/>
<rect x="531.0" y="664" width="2" height="5" fill="#0b9e85"/>
<rect x="535.0" y="659" width="2" height="10" fill="#0b9e85"/>
<rect x="539.0" y="653" width="2" height="16" fill="#0b9e85"/>
<rect x="543.0" y="651" width="2" height="18" fill="#0b9e85"/>
<rect x="547.0" y="652" width="2" height="17" fill="#ace5dc"/>
<rect x="551.0" y="653" width="2" height="16" fill="#ace5dc"/>
<rect x="555.0" y="653" width="2" height="16" fill="#ace5dc"/>
<rect x="559.0" y="654" width="2" height="15" fill="#ace5dc"/>
<rect x="563.0" y="656" width="2" height="13" fill="#ace5dc"/>
<rect x="567.0" y="659" width="2" height="10" fill="#ace5dc"/>
<rect x="571.0" y="660" width="2" height="9" fill="#ace5dc"/>
<rect x="575.0" y="661" width="2" height="8" fill="#ace5dc"/>
<rect x="579.0" y="663" width="2" height="6" fill="#ace5dc"/>
<rect x="583.0" y="663" width="2" height="6" fill="#0b9e85"/>
<rect x="587.0" y="665" width="2" height="4" fill="#ace5dc"/>
<rect x="591.0" y="667" width="2" height="2" fill="#ace5dc"/>
<rect x="595.0" y="664" width="2" height="5" fill="#0b9e85"/>
<rect x="599.0" y="662" width="2" height="7" fill="#0b9e85"/>
<rect x="603.0" y="662" width="2" height="7" fill="#ace5dc"/>
<rect x="607.0" y="661" width="2" height="8" fill="#0b9e85"/>
<rect x="611.0" y="659" width="2" height="10" fill="#0b9e85"/>
<rect x="615.0" y="657" width="2" height="12" fill="#0b9e85"/>
<rect x="619.0" y="658" width="2" height="11" fill="#ace5dc"/>
<rect x="623.0" y="653" width="2" height="16" fill="#0b9e85"/>
<rect x="627.0" y="650" width="2" height="19" fill="#0b9e85"/>
<rect x="631.0" y="642" width="2" height="27" fill="#0b9e85"/>
<rect x="635.0" y="641" width="2" height="28" fill="#0b9e85"/>
<rect x="639.0" y="636" width="2" height="33" fill="#0b9e85"/>
<rect x="643.0" y="636" width="2" height="33" fill="#ace5dc"/>
<rect x="647.0" y="635" width="2" height="34" fill="#0b9e85"/>
<rect x="651.0" y="638" width="2" height="31" fill="#ace5dc"/>
<rect x="655.0" y="655" width="2" height="14" fill="#ace5dc"/>
<rect x="659.0" y="668" width="2" height="2" fill="#ff5252"/>
<rect x="663.0" y="668" width="2" height="13" fill="#ff5252"/>
<rect x="667.0" y="668" width="2" height="19" fill="#ff5252"/>
<rect x="671.0" y="668" width="2" height="23" fill="#ff5252"/>
<rect x="675.0" y="668" width="2" height="24" fill="#ff5252"/>
<rect x="679.0" y="668" width="2" height="24" fill="#ffcdd2"/>
<rect x="683.0" y="668" width="2" height="19" fill="#ffcdd2"/>
<rect x="687.0" y="668" width="2" height="16" fill="#ffcdd2"/>
<rect x="691.0" y="668" width="2" height="15" fill="#ffcdd2"/>
<rect x="695.0" y="668" width="2" height="12" fill="#ffcdd2"/>
<rect x="699.0" y="668" width="2" height="9" fill="#ffcdd2"/>
<rect x="703.0" y="668" width="2" height="6" fill="#ffcdd2"/>
<rect x="707.0" y="668" width="2" height="7" fill="#ff5252"/>
<rect x="711.0" y="668" width="2" height="5" fill="#ffcdd2"/>
<rect x="715.0" y="668" width="2" height="6" fill="#ff5252"/>
<rect x="719.0" y="668" width="2" height="7" fill="#ff5252"/>
<rect x="723.0" y="668" width="2" height="8" fill="#ff5252"/>
<rect x="727.0" y="668" width="2" height="6" fill="#ffcdd2"/>
<rect x="731.0" y="668" width="2" height="6" fill="#ffcdd2"/>
<rect x="735.0" y="668" width="2" height="6" fill="#ffcdd2"/>
<rect x="739.0" y="668" width="2" height="6" fill="#ff5252"/>
<rect x="743.0" y="668" width="2" height="6" fill="#ff5252"/>
<rect x="747.0" y="668" width="2" height="5" fill="#ffcdd2"/>
<rect x="751.0" y="668" width="2" height="6" fill="#ff5252"/>
<rect x="755.0" y="668" width="2" height="3" fill="#ffcdd2"/>
<rect x="759.0" y="665" width="2" height="4" fill="#0b9e85"/>
<rect x="763.0" y="660" width="2" height="9" fill="#0b9e85"/>
<rect x="767.0" y="659" width="2" height="10" fill="#0b9e85"/>
<rect x="771.0" y="663" width="2" height="6" fill="#ace5dc"/>
<rect x="775.0" y="667" width="2" height="2" fill="#ace5dc"/>
<rect x="779.0" y="668" width="2" height="4" fill="#ff5252"/>
<rect x="783.0" y="668" width="2" height="9" fill="#ff5252"/>
<rect x="787.0" y="668" width="2" height="12" fill="#ff5252"/>
<rect x="791.0" y="668" width="2" height="14" fill="#ff5252"/>
<rect x="795.0" y="668" width="2" height="14" fill="#ffcdd2"/>
<rect x="799.0" y="668" width="2" height="14" fill="#ff5252"/>
<rect x="803.0" y="668" width="2" height="15" fill="#ff5252"/>
<rect x="807.0" y="668" width="2" height="12" fill="#ffcdd2"/>
<rect x="811.0" y="668" width="2" height="11" fill="#ffcdd2"/>
<rect x="815.0" y="668" width="2" height="9" fill="#ffcdd2"/>
<rect x="819.0" y="668" width="2" height="9" fill="#ffcdd2"/>
<rect x="823.0" y="668" width="2" height="6" fill="#ffcdd2"/>
<rect x="827.0" y="668" width="2" height="3" fill="#ffcdd2"/>
<rect x="831.0" y="668" width="2" height="1" fill="#0b9e85"/>
<rect x="835.0" y="664" width="2" height="5" fill="#0b9e85"/>
<rect x="839.0" y="665" width="2" height="4" fill="#ace5dc"/>
<rect x="843.0" y="664" width="2" height="5" fill="#0b9e85"/>
<rect x="847.0" y="663" width="2" height="6" fill="#0b9e85"/>
<rect x="851.0" y="663" width="2" height="6" fill="#ace5dc"/>
<rect x="855.0" y="662" width="2" height="7" fill="#0b9e85"/>
<rect x="859.0" y="660" width="2" height="9" fill="#0b9e85"/>
<rect x="863.0" y="662" width="2" height="7" fill="#ace5dc"/>
<rect x="867.0" y="664" width="2" height="5" fill="#ace5dc"/>
<rect x="871.0" y="668" width="2" height="1" fill="#ace5dc"/>
<rect x="875.0" y="668" width="2" height="2" fill="#ff5252"/>
<rect x="879.0" y="668" width="2" height="2" fill="#ff5252"/>
<rect x="883.0" y="668" width="2" height="1" fill="#0b9e85"/>
<rect x="887.0" y="668" width="2" height="2" fill="#ff5252"/>
<rect x="891.0" y="668" width="2" height="2" fill="#ffcdd2"/>
<rect x="895.0" y="668" width="2" height="1" fill="#0b9e85"/>
<rect x="899.0" y="665" width="2" height="4" fill="#0b9e85"/>
<rect x="903.0" y="665" width="2" height="4" fill="#0b9e85"/>
<rect x="907.0" y="665" width="2" height="4" fill="#ace5dc"/>
<rect x="911.0" y="667" width="2" height="2" fill="#ace5dc"/>
<rect x="915.0" y="668" width="2" height="1" fill="#ace5dc"/>
<rect x="919.0" y="667" width="2" height="2" fill="#0b9e85"/>
<rect x="923.0" y="664" width="2" height="5" fill="#0b9e85"/>
<rect x="927.0" y="661" width="2" height="8" fill="#0b9e85"/>
<rect x="931.0" y="660" width="2" height="9" fill="#0b9e85"/>
<rect x="935.0" y="664" width="2" height="5" fill="#ace5dc"/>
<rect x="939.0" y="667" width="2" height="2" fill="#ace5dc"/>
<rect x="943.0" y="668" width="2" height="3" fill="#ff5252"/>
<rect x="947.0" y="668" width="2" height="7" fill="#ff5252"/>
<rect x="951.0" y="668" width="2" height="9" fill="#ff5252"/>
<rect x="955.0" y="668" width="2" height="8" fill="#ffcdd2"/>
<rect x="959.0" y="668" width="2" height="6" fill="#ffcdd2"/>
<rect x="963.0" y="668" width="2" height="5" fill="#ffcdd2"/>
<rect x="967.0" y="668" width="2" height="5" fill="#ff5252"/>
<rect x="971.0" y="668" width="2" height="10" fill="#ff5252"/>
<rect x="975.0" y="668" width="2" height="11" fill="#ff5252"/>
<rect x="979.0" y="668" width="2" height="12" fill="#ff5252"/>
<rect x="983.0" y="668" width="2" height="12" fill="#ffcdd2"/>
<rect x="987.0" y="668" width="2" height="13" fill="#ff5252"/>
<rect x="991.0" y="668" width="2" height="13" fill="#ffcdd2"/>
<rect x="995.0" y="668" width="2" height="12" fill="#ffcdd2"/>
<rect x="999.0" y="668" width="2" height="10" fill="#ffcdd2"/>
<rect x="1003.0" y="668" width="2" height="5" fill="#ffcdd2"/>
<rect x="1007.0" y="664" width="2" height="5" fill="#0b9e85"/>
<rect x="1011.0" y="660" width="2" height="9" fill="#0b9e85"/>
<rect x="1015.0" y="657" width="2" height="12" fill="#0b9e85"/>
<rect x="1019.0" y="658" width="2" height="11" fill="#ace5dc"/>
<rect x="1023.0" y="659" width="2" height="10" fill="#ace5dc"/>
<rect x="1027.0" y="659" width="2" height="10" fill="#ace5dc"/>
<rect x="1031.0" y="659" width="2" height="10" fill="#0b9e85"/>
<rect x="1035.0" y="659" width="2" height="10" fill="#0b9e85"/>
<rect x="1039.0" y="660" width="2" height="9" fill="#ace5dc"/>
<rect x="1043.0" y="663" width="2" height="6" fill="#ace5dc"/>
<rect x="1047.0" y="665" width="2" height="4" fill="#ace5dc"/>
<rect x="1051.0" y="665" width="2" height="4" fill="#ace5dc"/>
<rect x="1055.0" y="665" width="2" height="4" fill="#0b9e85"/>
<rect x="1059.0" y="664" width="2" height="5" fill="#0b9e85"/>
<rect x="1063.0" y="667" width="2" height="2" fill="#ace5dc"/>
<rect x="1067.0" y="668" width="2" height="1" fill="#ff5252"/>
<rect x="1071.0" y="668" width="2" height="1" fill="#0b9e85"/>
<rect x="1075.0" y="668" width="2" height="1" fill="#0b9e85"/>
<rect x="1079.0" y="665" width="2" height="4" fill="#0b9e85"/>
<rect x="1083.0" y="667" width="2" height="2" fill="#ace5dc"/>
<rect x="1087.0" y="668" width="2" height="1" fill="#ff5252"/>
<rect x="1091.0" y="668" width="2" height="3" fill="#ff5252"/>
<rect x="1095.0" y="668" width="2" height="3" fill="#ffcdd2"/>
<rect x="1099.0" y="668" width="2" height="4" fill="#ff5252"/>
<rect x="1103.0" y="668" width="2" height="3" fill="#ffcdd2"/>
<rect x="1107.0" y="668" width="2" height="2" fill="#ffcdd2"/>
<rect x="1111.0" y="668" width="2" height="1" fill="#0b9e85"/>
<rect x="1115.0" y="667" width="2" height="2" fill="#0b9e85"/>
<rect x="1119.0" y="668" width="2" height="1" fill="#ace5dc"/>
<rect x="1123.0" y="667" width="2" height="2" fill="#0b9e85"/>
<rect x="1127.0" y="666" width="2" height="3" fill="#0b9e85"/>
<rect x="1131.0" y="665" width="2" height="4" fill="#0b9e85"/>
<rect x="1135.0" y="666" width="2" height="3" fill="#ace5dc"/>
<rect x="1139.0" y="668" width="2" height="1" fill="#ace5dc"/>
<rect x="1143.0" y="668" width="2" height="1" fill="#0b9e85"/>
<rect x="1147.0" y="668" width="2" height="2" fill="#ff5252"/>
<rect x="1151.0" y="668" width="2" height="4" fill="#ff5252"/>
<rect x="1155.0" y="668" width="2" height="6" fill="#ff5252"/>
<rect x="1159.0" y="668" width="2" height="10" fill="#ff5252"/>
<rect x="1163.0" y="668" width="2" height="8" fill="#ffcdd2"/>
<rect x="1167.0" y="668" width="2" height="9" fill="#ff5252"/>
<rect x="1171.0" y="668" width="2" height="7" fill="#ffcdd2"/>
<rect x="1175.0" y="668" width="2" height="3" fill="#ffcdd2"/>
<rect x="1179.0" y="667" width="2" height="2" fill="#0b9e85"/>
<rect x="1183.0" y="665" width="2" height="4" fill="#0b9e85"/>
<rect x="1187.0" y="666" width="2" height="3" fill="#ace5dc"/>
<rect x="1191.0" y="665" width="2" height="4" fill="#0b9e85"/>
<rect x="1195.0" y="664" width="2" height="5" fill="#0b9e85"/>
<rect x="1199.0" y="665" width="2" height="4" fill="#ace5dc"/>
<rect x="1203.0" y="666" width="2" height="3" fill="#ace5dc"/>
<rect x="1207.0" y="666" width="2" height="3" fill="#ace5dc"/>
<rect x="1211.0" y="664" width="2" height="5" fill="#0b9e85"/>
<rect x="1215.0" y="666" width="2" height="3" fill="#ace5dc"/>
<rect x="1219.0" y="668" width="2" height="1" fill="#ace5dc"/>
<rect x="1223.0" y="665" width="2" height="4" fill="#0b9e85"/>
<rect x="1227.0" y="663" width="2" height="6" fill="#0b9e85"/>
<rect x="1231.0" y="661" width="2" height="8" fill="#0b9e85"/>
<rect x="1235.0" y="657" width="2" height="12" fill="#0b9e85"/>
<rect x="1239.0" y="657" width="2" height="12" fill="#0b9e85"/>
<rect x="1243.0" y="659" width="2" height="10" fill="#ace5dc"/>
</g>
<polyline points="1.5,673.74 5.5,669.40 9.5,666.45 13.5,663.84 17.5,665.40 21.5,671.16 25.5,676.26 29.5,679.94 33.5,681.66 37.5,686.49 41.5,684.82 45.5,682.80 49.5,681.86 53.5,678.28 57.5,673.46 61.5,674.40 65.5,675.95 69.5,676.78 73.5,676.81 77.5,677.79 81.5,679.70 85.5,676.77 89.5,677.02 93.5,678.04 97.5,681.49 101.5,681.86 105.5,681.42 109.5,676.98 113.5,673.95 117.5,669.17 121.5,666.91 125.5,666.01 129.5,666.09 133.5,667.04 137.5,666.78 141.5,666.83 145.5,665.55 149.5,664.58 153.5,665.14 157.5,664.00 161.5,661.38 165.5,657.90 169.5,655.20 173.5,650.64 177.5,645.49 181.5,643.31 185.5,639.93 189.5,639.56 193.5,637.84 197.5,631.82 201.5,624.41 205.5,620.56 209.5,612.57 213.5,610.10 217.5,609.91 221.5,612.80 225.5,616.39 229.5,621.29 233.5,628.15 237.5,633.30 241.5,641.34 245.5,646.18 249.5,652.48 253.5,657.42 257.5,660.96 261.5,664.62 265.5,667.83 269.5,673.62 273.5,679.29 276.5,682.53 280.5,681.81 284.5,679.36 288.5,681.53 292.5,682.67 296.5,684.73 300.5,684.72 304.5,683.71 308.5,681.65 312.5,679.38 316.5,682.58 320.5,683.50 324.5,687.96 328.5,692.04 332.5,691.98 336.5,692.01 340.5,695.71 344.5,698.60 348.5,704.48 352.5,709.02 356.5,710.20 360.5,713.42 364.5,713.72 368.5,711.08 372.5,710.70 376.5,708.89 380.5,706.33 384.5,705.56 388.5,703.39 392.5,698.40 396.5,694.37 400.5,689.04 404.5,684.44 408.5,679.27 412.5,675.17 416.5,673.89 420.5,667.66 424.5,663.42 428.5,661.23 432.5,668.64 436.5,683.79 440.5,698.48 444.5,716.29 448.5,719.61 452.5,727.12 456.5,729.71 460.5,730.78 464.5,731.29 468.5,728.67 472.5,722.19 476.5,718.87 480.5,713.85 484.5,712.39 488.5,709.53 492.5,706.13 496.5,706.03 500.5,709.50 504.5,716.11 508.5,719.02 512.5,721.82 516.5,726.04 520.5,724.95 524.5,725.75 528.5,720.48 532.5,714.23 536.5,706.76 540.5,696.86 544.5,690.62 548.5,688.10 552.5,684.36 556.5,680.91 560.5,677.78 564.5,677.35 568.5,678.24 572.5,676.68 576.5,676.00 580.5,676.48 584.5,675.04 588.5,676.02 592.5,677.51 596.5,673.51 600.5,669.70 604.5,668.24 608.5,665.89 612.5,660.85 616.5,655.91 620.5,653.95 624.5,645.07 628.5,637.51 632.5,622.87 636.5,615.41 640.5,602.19 644.5,594.30 648.5,584.19 652.5,580.13 656.5,593.00 660.5,609.00 664.5,622.69 668.5,633.39 672.5,642.56 676.5,650.36 680.5,655.52 684.5,655.64 688.5,656.88 692.5,659.51 696.5,658.57 700.5,657.45 704.5,656.55 708.5,659.27 712.5,657.60 716.5,660.44 720.5,663.10 724.5,665.64 728.5,665.78 732.5,666.72 736.5,668.05 740.5,669.91 744.5,671.42 748.5,671.04 752.5,673.32 756.5,670.80 760.5,664.01 764.5,656.51 768.5,653.00 772.5,655.63 776.5,659.90 780.5,665.70 784.5,672.38 788.5,678.53 792.5,684.34 796.5,687.29 800.5,691.31 804.5,695.13 808.5,695.47 812.5,697.22 816.5,697.57 820.5,698.90 824.5,697.69 828.5,695.14 832.5,692.14 836.5,687.34 840.5,686.89 844.5,684.99 848.5,682.44 852.5,681.16 856.5,678.40 860.5,673.93 864.5,674.63 868.5,676.15 872.5,680.12 876.5,682.14 880.5,682.64 884.5,680.73 888.5,682.62 892.5,682.95 896.5,681.59 900.5,677.85 904.5,676.26 908.5,675.50 912.5,677.08 916.5,678.22 920.5,676.17 924.5,671.95 928.5,667.68 932.5,664.69 936.5,666.77 940.5,670.14 944.5,674.21 948.5,679.68 952.5,683.72 956.5,684.53 960.5,684.34 964.5,683.79 968.5,684.91 972.5,692.79 976.5,695.71 980.5,700.14 984.5,702.79 988.5,707.63 992.5,710.36 996.5,712.77 1000.5,712.71 1004.5,708.18 1008.5,699.07 1012.5,692.55 1016.5,686.89 1020.5,685.13 1024.5,683.09 1028.5,681.56 1032.5,678.91 1036.5,676.18 1040.5,675.63 1044.5,676.73 1048.5,677.59 1052.5,677.47 1056.5,676.54 1060.5,673.90 1064.5,677.30 1068.5,679.39 1072.5,678.29 1076.5,677.41 1080.5,674.38 1084.5,675.17 1088.5,677.20 1092.5,680.26 1096.5,680.22 1100.5,682.52 1104.5,682.66 1108.5,681.51 1112.5,679.49 1116.5,678.14 1120.5,678.80 1124.5,678.17 1128.5,676.30 1132.5,673.82 1136.5,674.70 1140.5,676.35 1144.5,676.10 1148.5,678.36 1152.5,680.91 1156.5,684.61 1160.5,690.61 1164.5,691.45 1168.5,693.55 1172.5,693.30 1176.5,689.60 1180.5,685.50 1184.5,682.50 1188.5,683.30 1192.5,681.42 1196.5,679.61 1200.5,679.45 1204.5,679.15 1208.5,679.03 1212.5,676.46 1216.5,677.58 1220.5,679.67 1224.5,675.95 1228.5,672.66 1232.5,668.58 1236.5,661.94 1240.5,658.60 1244.5,657.98" fill="none" stroke="#2196f3" stroke-width="1.25" stroke-linejoin="round"/>
<polyline points="1.5,670.78 5.5,670.50 9.5,669.69 13.5,668.52 17.5,667.90 21.5,668.55 25.5,670.09 29.5,672.06 33.5,673.98 37.5,676.48 41.5,678.15 45.5,679.08 49.5,679.64 53.5,679.37 57.5,678.18 61.5,677.43 65.5,677.13 69.5,677.06 73.5,677.01 77.5,677.17 81.5,677.67 85.5,677.49 89.5,677.40 93.5,677.53 97.5,678.32 101.5,679.03 105.5,679.51 109.5,679.00 113.5,677.99 117.5,676.23 121.5,674.36 125.5,672.69 129.5,671.37 133.5,670.50 137.5,669.76 141.5,669.17 145.5,668.45 149.5,667.68 153.5,667.17 157.5,666.53 161.5,665.50 165.5,663.98 169.5,662.23 173.5,659.91 177.5,657.02 181.5,654.28 185.5,651.41 189.5,649.04 193.5,646.80 197.5,643.80 201.5,639.93 205.5,636.05 209.5,631.36 213.5,627.11 217.5,623.67 221.5,621.49 225.5,620.47 229.5,620.64 233.5,622.14 237.5,624.37 241.5,627.76 245.5,631.45 249.5,635.65 253.5,640.01 257.5,644.20 261.5,648.28 265.5,652.19 269.5,656.48 273.5,661.04 276.5,665.34 280.5,668.63 284.5,670.78 288.5,672.93 292.5,674.88 296.5,676.85 300.5,678.42 304.5,679.48 308.5,679.91 312.5,679.81 316.5,680.36 320.5,680.99 324.5,682.38 328.5,684.32 332.5,685.85 336.5,687.08 340.5,688.81 344.5,690.77 348.5,693.51 352.5,696.61 356.5,699.33 360.5,702.15 364.5,704.46 368.5,705.78 372.5,706.77 376.5,707.19 380.5,707.02 384.5,706.73 388.5,706.06 392.5,704.53 396.5,702.50 400.5,699.80 404.5,696.73 408.5,693.24 412.5,689.63 416.5,686.48 420.5,682.72 424.5,678.86 428.5,675.33 432.5,673.99 436.5,675.95 440.5,680.46 444.5,687.62 448.5,694.02 452.5,700.64 456.5,706.46 460.5,711.32 464.5,715.31 468.5,717.99 472.5,718.83 476.5,718.83 480.5,717.84 484.5,716.75 488.5,715.31 492.5,713.47 496.5,711.98 500.5,711.49 504.5,712.41 508.5,713.73 512.5,715.35 516.5,717.49 520.5,718.98 524.5,720.33 528.5,720.36 532.5,719.14 536.5,716.66 540.5,712.70 544.5,708.28 548.5,704.25 552.5,700.27 556.5,696.40 560.5,692.67 564.5,689.61 568.5,687.33 572.5,685.20 576.5,683.36 580.5,681.99 584.5,680.60 588.5,679.68 592.5,679.25 596.5,678.10 600.5,676.42 604.5,674.78 608.5,673.00 612.5,670.57 616.5,667.64 620.5,664.90 624.5,660.93 628.5,656.25 632.5,649.57 636.5,642.74 640.5,634.63 644.5,626.57 648.5,618.09 652.5,610.50 656.5,607.00 660.5,607.40 664.5,610.46 668.5,615.04 672.5,620.55 676.5,626.51 680.5,632.31 684.5,636.98 688.5,640.96 692.5,644.67 696.5,647.45 700.5,649.45 704.5,650.87 708.5,652.55 712.5,653.56 716.5,654.94 720.5,656.57 724.5,658.39 728.5,659.86 732.5,661.24 736.5,662.60 740.5,664.06 744.5,665.53 748.5,666.63 752.5,667.97 756.5,668.54 760.5,667.63 764.5,665.41 768.5,662.92 772.5,661.47 776.5,661.15 780.5,662.06 784.5,664.12 788.5,667.01 792.5,670.47 796.5,673.84 800.5,677.33 804.5,680.89 808.5,683.81 812.5,686.49 816.5,688.71 820.5,690.74 824.5,692.13 828.5,692.73 832.5,692.62 836.5,691.56 840.5,690.63 844.5,689.50 848.5,688.09 852.5,686.70 856.5,685.04 860.5,682.82 864.5,681.18 868.5,680.17 872.5,680.16 876.5,680.56 880.5,680.97 884.5,680.93 888.5,681.26 892.5,681.60 896.5,681.60 900.5,680.85 904.5,679.93 908.5,679.04 912.5,678.65 916.5,678.56 920.5,678.09 924.5,676.86 928.5,675.02 932.5,672.96 936.5,671.72 940.5,671.40 944.5,671.96 948.5,673.51 952.5,675.55 956.5,677.35 960.5,678.75 964.5,679.75 968.5,680.78 972.5,683.19 976.5,685.69 980.5,688.58 984.5,691.42 988.5,694.66 992.5,697.80 996.5,700.80 1000.5,703.18 1004.5,704.18 1008.5,703.16 1012.5,701.04 1016.5,698.21 1020.5,695.59 1024.5,693.09 1028.5,690.79 1032.5,688.41 1036.5,685.96 1040.5,683.90 1044.5,682.46 1048.5,681.49 1052.5,680.68 1056.5,679.85 1060.5,678.66 1064.5,678.39 1068.5,678.59 1072.5,678.53 1076.5,678.31 1080.5,677.52 1084.5,677.05 1088.5,677.08 1092.5,677.72 1096.5,678.22 1100.5,679.08 1104.5,679.80 1108.5,680.14 1112.5,680.01 1116.5,679.64 1120.5,679.47 1124.5,679.21 1128.5,678.63 1132.5,677.67 1136.5,677.07 1140.5,676.93 1144.5,676.76 1148.5,677.08 1152.5,677.85 1156.5,679.20 1160.5,681.48 1164.5,683.48 1168.5,685.49 1172.5,687.05 1176.5,687.56 1180.5,687.15 1184.5,686.22 1188.5,685.64 1192.5,684.79 1196.5,683.76 1200.5,682.90 1204.5,682.15 1208.5,681.52 1212.5,680.51 1216.5,679.93 1220.5,679.87 1224.5,679.09 1228.5,677.80 1232.5,675.96 1236.5,673.15 1240.5,670.24 1244.5,667.79" fill="none" stroke="#ff6d00" stroke-width="1.25" stroke-linejoin="round"/>
</g>
<g shape-rendering="crispEdges"><rect x="2" y="373" width="1628" height="1" fill="#e0e3eb"/><rect x="2" y="560" width="1628" height="1" fill="#e0e3eb"/></g>
<text x="1574.0" y="36" fill="#131722" font-size="16.4" font-family="'Liberation Sans', Arial, sans-serif" font-weight="normal" textLength="45.9" lengthAdjust="spacingAndGlyphs">80.000</text>
<text x="1574.0" y="86" fill="#131722" font-size="16.4" font-family="'Liberation Sans', Arial, sans-serif" font-weight="normal" textLength="45.9" lengthAdjust="spacingAndGlyphs">76.000</text>
<text x="1574.0" y="135" fill="#131722" font-size="16.4" font-family="'Liberation Sans', Arial, sans-serif" font-weight="normal" textLength="45.9" lengthAdjust="spacingAndGlyphs">72.000</text>
<text x="1574.0" y="185" fill="#131722" font-size="16.4" font-family="'Liberation Sans', Arial, sans-serif" font-weight="normal" textLength="45.9" lengthAdjust="spacingAndGlyphs">68.000</text>
<text x="1574.0" y="234" fill="#131722" font-size="16.4" font-family="'Liberation Sans', Arial, sans-serif" font-weight="normal" textLength="45.9" lengthAdjust="spacingAndGlyphs">64.000</text>
<text x="1574.0" y="284" fill="#131722" font-size="16.4" font-family="'Liberation Sans', Arial, sans-serif" font-weight="normal" textLength="45.9" lengthAdjust="spacingAndGlyphs">60.000</text>
<text x="1574.0" y="333" fill="#131722" font-size="16.4" font-family="'Liberation Sans', Arial, sans-serif" font-weight="normal" textLength="45.9" lengthAdjust="spacingAndGlyphs">56.000</text>
<text x="1574.0" y="390" fill="#131722" font-size="16.4" font-family="'Liberation Sans', Arial, sans-serif" font-weight="normal" textLength="37.7" lengthAdjust="spacingAndGlyphs">80.00</text>
<text x="1574.0" y="446" fill="#131722" font-size="16.4" font-family="'Liberation Sans', Arial, sans-serif" font-weight="normal" textLength="37.7" lengthAdjust="spacingAndGlyphs">60.00</text>
<text x="1574.0" y="502" fill="#131722" font-size="16.4" font-family="'Liberation Sans', Arial, sans-serif" font-weight="normal" textLength="37.7" lengthAdjust="spacingAndGlyphs">40.00</text>
<text x="1574.0" y="559" fill="#131722" font-size="16.4" font-family="'Liberation Sans', Arial, sans-serif" font-weight="normal" textLength="37.7" lengthAdjust="spacingAndGlyphs">20.00</text>
<text x="1573.5" y="618" fill="#131722" font-size="16.4" font-family="'Liberation Sans', Arial, sans-serif" font-weight="normal" textLength="38.5" lengthAdjust="spacingAndGlyphs">2.000</text>
<text x="1574.1" y="730" fill="#131722" font-size="16.4" font-family="'Liberation Sans', Arial, sans-serif" font-weight="normal" textLength="46.1" lengthAdjust="spacingAndGlyphs">−2.000</text>
<path d="M1564,255 H1624 a2,2 0 0 1 2,2 V274 a2,2 0 0 1 -2,2 H1564 Z" fill="#2b22f0"/><text x="1573.9" y="271.0" fill="#ffffff" font-size="16.4" font-family="'Liberation Sans', Arial, sans-serif" font-weight="normal" textLength="46.0" lengthAdjust="spacingAndGlyphs">59.982</text>
<path d="M1564,277 H1624 a2,2 0 0 1 2,2 V296 a2,2 0 0 1 -2,2 H1564 Z" fill="#F23645"/><text x="1573.9" y="293.0" fill="#ffffff" font-size="16.4" font-family="'Liberation Sans', Arial, sans-serif" font-weight="normal" textLength="46.0" lengthAdjust="spacingAndGlyphs">59.267</text>
<path d="M1564,298 H1624 a2,2 0 0 1 2,2 V317 a2,2 0 0 1 -2,2 H1564 Z" fill="#2a5af2"/><text x="1573.9" y="314.0" fill="#ffffff" font-size="16.4" font-family="'Liberation Sans', Arial, sans-serif" font-weight="normal" textLength="46.0" lengthAdjust="spacingAndGlyphs">58.416</text>
<path d="M1564,319 H1624 a2,2 0 0 1 2,2 V338 a2,2 0 0 1 -2,2 H1564 Z" fill="#2196f3"/><text x="1573.9" y="335.0" fill="#ffffff" font-size="16.4" font-family="'Liberation Sans', Arial, sans-serif" font-weight="normal" textLength="46.0" lengthAdjust="spacingAndGlyphs">57.890</text>
<path d="M1564,446 H1616.6 a2,2 0 0 1 2,2 V465 a2,2 0 0 1 -2,2 H1564 Z" fill="#9c52c6"/><text x="1573.9" y="462.0" fill="#ffffff" font-size="16.4" font-family="'Liberation Sans', Arial, sans-serif" font-weight="normal" textLength="37.9" lengthAdjust="spacingAndGlyphs">54.36</text>
<path d="M1564,627 H1616.6 a2,2 0 0 1 2,2 V646 a2,2 0 0 1 -2,2 H1564 Z" fill="#2196f3"/><text x="1573.9" y="643.0" fill="#ffffff" font-size="16.4" font-family="'Liberation Sans', Arial, sans-serif" font-weight="normal" textLength="37.9" lengthAdjust="spacingAndGlyphs">0.376</text>
<path d="M1564,648 H1616.6 a2,2 0 0 1 2,2 V667 a2,2 0 0 1 -2,2 H1564 Z" fill="#ace5dc"/><text x="1573.9" y="664.0" fill="#131722" font-size="16.4" font-family="'Liberation Sans', Arial, sans-serif" font-weight="normal" textLength="37.9" lengthAdjust="spacingAndGlyphs">0.355</text>
<path d="M1564,669 H1616.6 a2,2 0 0 1 2,2 V688 a2,2 0 0 1 -2,2 H1564 Z" fill="#ff6d00"/><text x="1573.9" y="685.0" fill="#ffffff" font-size="16.4" font-family="'Liberation Sans', Arial, sans-serif" font-weight="normal" textLength="37.9" lengthAdjust="spacingAndGlyphs">0.020</text>
<text x="151.2" y="770" fill="#131722" font-size="16.4" font-family="'Liberation Sans', Arial, sans-serif" font-weight="bold" textLength="34.6" lengthAdjust="spacingAndGlyphs">2025</text>
<text x="327.9" y="770" fill="#131722" font-size="16.4" font-family="'Liberation Sans', Arial, sans-serif" font-weight="normal" textLength="25.1" lengthAdjust="spacingAndGlyphs">Mar</text>
<text x="494.7" y="770" fill="#131722" font-size="16.4" font-family="'Liberation Sans', Arial, sans-serif" font-weight="normal" textLength="26.8" lengthAdjust="spacingAndGlyphs">May</text>
<text x="670.2" y="770" fill="#131722" font-size="16.4" font-family="'Liberation Sans', Arial, sans-serif" font-weight="normal" textLength="19.9" lengthAdjust="spacingAndGlyphs">Jul</text>
<text x="843.9" y="770" fill="#131722" font-size="16.4" font-family="'Liberation Sans', Arial, sans-serif" font-weight="normal" textLength="24.3" lengthAdjust="spacingAndGlyphs">Sep</text>
<text x="1023.1" y="770" fill="#131722" font-size="16.4" font-family="'Liberation Sans', Arial, sans-serif" font-weight="normal" textLength="25.1" lengthAdjust="spacingAndGlyphs">Nov</text>
<text x="1186.2" y="770" fill="#131722" font-size="16.4" font-family="'Liberation Sans', Arial, sans-serif" font-weight="bold" textLength="34.5" lengthAdjust="spacingAndGlyphs">2026</text>
<text x="1299.0" y="770" fill="#131722" font-size="16.4" font-family="'Liberation Sans', Arial, sans-serif" font-weight="normal" textLength="24.8" lengthAdjust="spacingAndGlyphs">Feb</text>
<text x="1410.5" y="770" fill="#131722" font-size="16.4" font-family="'Liberation Sans', Arial, sans-serif" font-weight="normal" textLength="25.6" lengthAdjust="spacingAndGlyphs">Mar</text>
<text x="1535.5" y="770" fill="#131722" font-size="16.4" font-family="'Liberation Sans', Arial, sans-serif" font-weight="normal" textLength="23.5" lengthAdjust="spacingAndGlyphs">Apr</text>
<text x="10.8" y="25.9" fill="#131722" font-size="15.4" font-family="'Liberation Sans', Arial, sans-serif" font-weight="normal" textLength="227.2" lengthAdjust="spacingAndGlyphs">West Texas Intermediate (Oil), 1D</text>
<text x="246.6" y="25.9" fill="#131722" font-size="15.4" font-family="'Liberation Sans', Arial, sans-serif" font-weight="normal" textLength="10.1" lengthAdjust="spacingAndGlyphs">O</text>
<text x="256.6" y="25.9" fill="#F23645" font-size="15.4" font-family="'Liberation Sans', Arial, sans-serif" font-weight="normal" textLength="44.9" lengthAdjust="spacingAndGlyphs">60.107</text>
<text x="311.3" y="25.9" fill="#131722" font-size="15.4" font-family="'Liberation Sans', Arial, sans-serif" font-weight="normal" textLength="9.2" lengthAdjust="spacingAndGlyphs">H</text>
<text x="320.3" y="25.9" fill="#F23645" font-size="15.4" font-family="'Liberation Sans', Arial, sans-serif" font-weight="normal" textLength="44.9" lengthAdjust="spacingAndGlyphs">61.672</text>
<text x="374.6" y="25.9" fill="#131722" font-size="15.4" font-family="'Liberation Sans', Arial, sans-serif" font-weight="normal" textLength="7.8" lengthAdjust="spacingAndGlyphs">L</text>
<text x="382.6" y="25.9" fill="#F23645" font-size="15.4" font-family="'Liberation Sans', Arial, sans-serif" font-weight="normal" textLength="43.9" lengthAdjust="spacingAndGlyphs">58.765</text>
<text x="435.7" y="25.9" fill="#131722" font-size="15.4" font-family="'Liberation Sans', Arial, sans-serif" font-weight="normal" textLength="9.3" lengthAdjust="spacingAndGlyphs">C</text>
<text x="445.0" y="25.9" fill="#F23645" font-size="15.4" font-family="'Liberation Sans', Arial, sans-serif" font-weight="normal" textLength="44.7" lengthAdjust="spacingAndGlyphs">59.267</text>
<text x="499.2" y="25.9" fill="#F23645" font-size="15.4" font-family="'Liberation Sans', Arial, sans-serif" font-weight="normal" textLength="43.8" lengthAdjust="spacingAndGlyphs">−0.852</text>
<text x="549.2" y="25.9" fill="#F23645" font-size="15.4" font-family="'Liberation Sans', Arial, sans-serif" font-weight="normal" textLength="55.7" lengthAdjust="spacingAndGlyphs">(−1.42%)</text>
<text x="10.5" y="47.0" fill="#131722" font-size="15.4" font-family="'Liberation Sans', Arial, sans-serif" font-weight="normal" textLength="112.9" lengthAdjust="spacingAndGlyphs">MA (21, close, 0)</text>
<text x="132.9" y="47.0" fill="#2196f3" font-size="15.4" font-family="'Liberation Sans', Arial, sans-serif" font-weight="normal" textLength="45.2" lengthAdjust="spacingAndGlyphs">57.890</text>
<text x="10.5" y="67.8" fill="#131722" font-size="15.4" font-family="'Liberation Sans', Arial, sans-serif" font-weight="normal" textLength="112.9" lengthAdjust="spacingAndGlyphs">MA (50, close, 0)</text>
<text x="132.9" y="67.8" fill="#2a5af2" font-size="15.4" font-family="'Liberation Sans', Arial, sans-serif" font-weight="normal" textLength="44.4" lengthAdjust="spacingAndGlyphs">58.416</text>
<text x="10.5" y="88.5" fill="#131722" font-size="15.4" font-family="'Liberation Sans', Arial, sans-serif" font-weight="normal" textLength="120.8" lengthAdjust="spacingAndGlyphs">MA (100, close, 0)</text>
<text x="140.9" y="88.5" fill="#2b22f0" font-size="15.4" font-family="'Liberation Sans', Arial, sans-serif" font-weight="normal" textLength="44.2" lengthAdjust="spacingAndGlyphs">59.982</text>
<text x="11.2" y="398.75" fill="#131722" font-size="15.4" font-family="'Liberation Sans', Arial, sans-serif" font-weight="normal" textLength="50.6" lengthAdjust="spacingAndGlyphs">RSI (14)</text>
<text x="71.5" y="398.75" fill="#9c52c6" font-size="15.4" font-family="'Liberation Sans', Arial, sans-serif" font-weight="normal" textLength="36.8" lengthAdjust="spacingAndGlyphs">54.36</text>
<text x="10.6" y="585.6" fill="#131722" font-size="15.4" font-family="'Liberation Sans', Arial, sans-serif" font-weight="normal" textLength="157.4" lengthAdjust="spacingAndGlyphs">MACD (12, 26, close, 9)</text>
<text x="176.5" y="585.6" fill="#ace5dc" font-size="15.4" font-family="'Liberation Sans', Arial, sans-serif" font-weight="normal" textLength="37.2" lengthAdjust="spacingAndGlyphs">0.355</text>
<text x="221.9" y="585.6" fill="#2196f3" font-size="15.4" font-family="'Liberation Sans', Arial, sans-serif" font-weight="normal" textLength="37.7" lengthAdjust="spacingAndGlyphs">0.376</text>
<text x="268.0" y="585.6" fill="#ff6d00" font-size="15.4" font-family="'Liberation Sans', Arial, sans-serif" font-weight="normal" textLength="37.9" lengthAdjust="spacingAndGlyphs">0.020</text>
</svg>
</body></html>
